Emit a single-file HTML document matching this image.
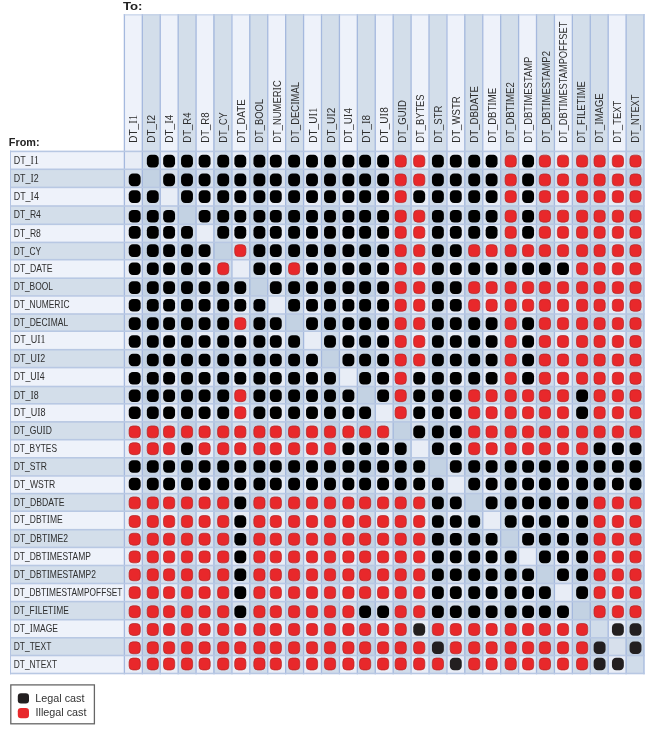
<!DOCTYPE html>
<html><head><meta charset="utf-8"><style>
html,body{margin:0;padding:0;background:#fff;width:645px;height:729px;overflow:hidden}
text{font-family:"Liberation Sans",sans-serif}
.rl{font-size:10.7px;fill:#2E2E2E}
.cl{font-size:11.2px;fill:#2E2E2E}
.si{font-family:"Liberation Serif",serif;font-size:110%}
.tt{font-size:11.5px;font-weight:bold;fill:#222}
.lg{font-size:10.8px;fill:#333}
</style></head><body>
<svg width="645" height="729" viewBox="0 0 645 729" style="display:block">
<g shape-rendering="crispEdges">
<rect x="124" y="14" width="18" height="137" fill="#EEF2FA"/>
<rect x="142" y="14" width="18" height="137" fill="#D3DEEA"/>
<rect x="160" y="14" width="18" height="137" fill="#EEF2FA"/>
<rect x="178" y="14" width="18" height="137" fill="#D3DEEA"/>
<rect x="196" y="14" width="17" height="137" fill="#EEF2FA"/>
<rect x="213" y="14" width="18" height="137" fill="#D3DEEA"/>
<rect x="231" y="14" width="18" height="137" fill="#EEF2FA"/>
<rect x="249" y="14" width="18" height="137" fill="#D3DEEA"/>
<rect x="267" y="14" width="18" height="137" fill="#EEF2FA"/>
<rect x="285" y="14" width="18" height="137" fill="#D3DEEA"/>
<rect x="303" y="14" width="18" height="137" fill="#EEF2FA"/>
<rect x="321" y="14" width="18" height="137" fill="#D3DEEA"/>
<rect x="339" y="14" width="18" height="137" fill="#EEF2FA"/>
<rect x="357" y="14" width="18" height="137" fill="#D3DEEA"/>
<rect x="375" y="14" width="18" height="137" fill="#EEF2FA"/>
<rect x="393" y="14" width="18" height="137" fill="#D3DEEA"/>
<rect x="411" y="14" width="18" height="137" fill="#EEF2FA"/>
<rect x="429" y="14" width="17" height="137" fill="#D3DEEA"/>
<rect x="446" y="14" width="18" height="137" fill="#EEF2FA"/>
<rect x="464" y="14" width="18" height="137" fill="#D3DEEA"/>
<rect x="482" y="14" width="18" height="137" fill="#EEF2FA"/>
<rect x="500" y="14" width="18" height="137" fill="#D3DEEA"/>
<rect x="518" y="14" width="18" height="137" fill="#EEF2FA"/>
<rect x="536" y="14" width="18" height="137" fill="#D3DEEA"/>
<rect x="554" y="14" width="18" height="137" fill="#EEF2FA"/>
<rect x="572" y="14" width="18" height="137" fill="#D3DEEA"/>
<rect x="590" y="14" width="18" height="137" fill="#D3DEEA"/>
<rect x="608" y="14" width="18" height="137" fill="#EEF2FA"/>
<rect x="626" y="14" width="18" height="137" fill="#D3DEEA"/>
<rect x="10" y="151" width="114" height="18" fill="#EEF2FA"/>
<rect x="10" y="169" width="114" height="18" fill="#D3DEEA"/>
<rect x="10" y="187" width="114" height="19" fill="#EEF2FA"/>
<rect x="10" y="206" width="114" height="18" fill="#D3DEEA"/>
<rect x="10" y="224" width="114" height="18" fill="#EEF2FA"/>
<rect x="10" y="242" width="114" height="17" fill="#D3DEEA"/>
<rect x="10" y="259" width="114" height="19" fill="#EEF2FA"/>
<rect x="10" y="278" width="114" height="17" fill="#D3DEEA"/>
<rect x="10" y="295" width="114" height="19" fill="#EEF2FA"/>
<rect x="10" y="314" width="114" height="17" fill="#D3DEEA"/>
<rect x="10" y="331" width="114" height="18" fill="#EEF2FA"/>
<rect x="10" y="349" width="114" height="18" fill="#D3DEEA"/>
<rect x="10" y="367" width="114" height="19" fill="#EEF2FA"/>
<rect x="10" y="386" width="114" height="17" fill="#D3DEEA"/>
<rect x="10" y="403" width="114" height="18" fill="#EEF2FA"/>
<rect x="10" y="421" width="114" height="18" fill="#D3DEEA"/>
<rect x="10" y="439" width="114" height="18" fill="#EEF2FA"/>
<rect x="10" y="457" width="114" height="18" fill="#D3DEEA"/>
<rect x="10" y="475" width="114" height="18" fill="#EEF2FA"/>
<rect x="10" y="493" width="114" height="18" fill="#D3DEEA"/>
<rect x="10" y="511" width="114" height="18" fill="#EEF2FA"/>
<rect x="10" y="529" width="114" height="18" fill="#D3DEEA"/>
<rect x="10" y="547" width="114" height="18" fill="#EEF2FA"/>
<rect x="10" y="565" width="114" height="18" fill="#D3DEEA"/>
<rect x="10" y="583" width="114" height="18" fill="#EEF2FA"/>
<rect x="10" y="601" width="114" height="18" fill="#D3DEEA"/>
<rect x="10" y="619" width="114" height="18" fill="#EEF2FA"/>
<rect x="10" y="637" width="114" height="18" fill="#D3DEEA"/>
<rect x="10" y="655" width="114" height="18" fill="#EEF2FA"/>
<rect x="124" y="151" width="18" height="18" fill="#E8EDF6"/>
<rect x="142" y="151" width="18" height="18" fill="#D0DCEA"/>
<rect x="160" y="151" width="18" height="18" fill="#E8EDF6"/>
<rect x="178" y="151" width="18" height="18" fill="#D0DCEA"/>
<rect x="196" y="151" width="17" height="18" fill="#E8EDF6"/>
<rect x="213" y="151" width="18" height="18" fill="#D0DCEA"/>
<rect x="231" y="151" width="18" height="18" fill="#E8EDF6"/>
<rect x="249" y="151" width="18" height="18" fill="#D0DCEA"/>
<rect x="267" y="151" width="18" height="18" fill="#E8EDF6"/>
<rect x="285" y="151" width="18" height="18" fill="#D0DCEA"/>
<rect x="303" y="151" width="18" height="18" fill="#E8EDF6"/>
<rect x="321" y="151" width="18" height="18" fill="#D0DCEA"/>
<rect x="339" y="151" width="18" height="18" fill="#E8EDF6"/>
<rect x="357" y="151" width="18" height="18" fill="#D0DCEA"/>
<rect x="375" y="151" width="18" height="18" fill="#E8EDF6"/>
<rect x="393" y="151" width="18" height="18" fill="#D0DCEA"/>
<rect x="411" y="151" width="18" height="18" fill="#E8EDF6"/>
<rect x="429" y="151" width="17" height="18" fill="#D0DCEA"/>
<rect x="446" y="151" width="18" height="18" fill="#E8EDF6"/>
<rect x="464" y="151" width="18" height="18" fill="#D0DCEA"/>
<rect x="482" y="151" width="18" height="18" fill="#E8EDF6"/>
<rect x="500" y="151" width="18" height="18" fill="#D0DCEA"/>
<rect x="518" y="151" width="18" height="18" fill="#E8EDF6"/>
<rect x="536" y="151" width="18" height="18" fill="#D0DCEA"/>
<rect x="554" y="151" width="18" height="18" fill="#E8EDF6"/>
<rect x="572" y="151" width="18" height="18" fill="#D0DCEA"/>
<rect x="590" y="151" width="18" height="18" fill="#D0DCEA"/>
<rect x="608" y="151" width="18" height="18" fill="#E8EDF6"/>
<rect x="626" y="151" width="18" height="18" fill="#D0DCEA"/>
<rect x="124" y="169" width="18" height="18" fill="#D7E0EC"/>
<rect x="142" y="169" width="18" height="18" fill="#C3D2E3"/>
<rect x="160" y="169" width="18" height="18" fill="#D7E0EC"/>
<rect x="178" y="169" width="18" height="18" fill="#C3D2E3"/>
<rect x="196" y="169" width="17" height="18" fill="#D7E0EC"/>
<rect x="213" y="169" width="18" height="18" fill="#C3D2E3"/>
<rect x="231" y="169" width="18" height="18" fill="#D7E0EC"/>
<rect x="249" y="169" width="18" height="18" fill="#C3D2E3"/>
<rect x="267" y="169" width="18" height="18" fill="#D7E0EC"/>
<rect x="285" y="169" width="18" height="18" fill="#C3D2E3"/>
<rect x="303" y="169" width="18" height="18" fill="#D7E0EC"/>
<rect x="321" y="169" width="18" height="18" fill="#C3D2E3"/>
<rect x="339" y="169" width="18" height="18" fill="#D7E0EC"/>
<rect x="357" y="169" width="18" height="18" fill="#C3D2E3"/>
<rect x="375" y="169" width="18" height="18" fill="#D7E0EC"/>
<rect x="393" y="169" width="18" height="18" fill="#C3D2E3"/>
<rect x="411" y="169" width="18" height="18" fill="#D7E0EC"/>
<rect x="429" y="169" width="17" height="18" fill="#C3D2E3"/>
<rect x="446" y="169" width="18" height="18" fill="#D7E0EC"/>
<rect x="464" y="169" width="18" height="18" fill="#C3D2E3"/>
<rect x="482" y="169" width="18" height="18" fill="#D7E0EC"/>
<rect x="500" y="169" width="18" height="18" fill="#C3D2E3"/>
<rect x="518" y="169" width="18" height="18" fill="#D7E0EC"/>
<rect x="536" y="169" width="18" height="18" fill="#C3D2E3"/>
<rect x="554" y="169" width="18" height="18" fill="#D7E0EC"/>
<rect x="572" y="169" width="18" height="18" fill="#C3D2E3"/>
<rect x="590" y="169" width="18" height="18" fill="#C3D2E3"/>
<rect x="608" y="169" width="18" height="18" fill="#D7E0EC"/>
<rect x="626" y="169" width="18" height="18" fill="#C3D2E3"/>
<rect x="124" y="187" width="18" height="19" fill="#E8EDF6"/>
<rect x="142" y="187" width="18" height="19" fill="#D0DCEA"/>
<rect x="160" y="187" width="18" height="19" fill="#E8EDF6"/>
<rect x="178" y="187" width="18" height="19" fill="#D0DCEA"/>
<rect x="196" y="187" width="17" height="19" fill="#E8EDF6"/>
<rect x="213" y="187" width="18" height="19" fill="#D0DCEA"/>
<rect x="231" y="187" width="18" height="19" fill="#E8EDF6"/>
<rect x="249" y="187" width="18" height="19" fill="#D0DCEA"/>
<rect x="267" y="187" width="18" height="19" fill="#E8EDF6"/>
<rect x="285" y="187" width="18" height="19" fill="#D0DCEA"/>
<rect x="303" y="187" width="18" height="19" fill="#E8EDF6"/>
<rect x="321" y="187" width="18" height="19" fill="#D0DCEA"/>
<rect x="339" y="187" width="18" height="19" fill="#E8EDF6"/>
<rect x="357" y="187" width="18" height="19" fill="#D0DCEA"/>
<rect x="375" y="187" width="18" height="19" fill="#E8EDF6"/>
<rect x="393" y="187" width="18" height="19" fill="#D0DCEA"/>
<rect x="411" y="187" width="18" height="19" fill="#E8EDF6"/>
<rect x="429" y="187" width="17" height="19" fill="#D0DCEA"/>
<rect x="446" y="187" width="18" height="19" fill="#E8EDF6"/>
<rect x="464" y="187" width="18" height="19" fill="#D0DCEA"/>
<rect x="482" y="187" width="18" height="19" fill="#E8EDF6"/>
<rect x="500" y="187" width="18" height="19" fill="#D0DCEA"/>
<rect x="518" y="187" width="18" height="19" fill="#E8EDF6"/>
<rect x="536" y="187" width="18" height="19" fill="#D0DCEA"/>
<rect x="554" y="187" width="18" height="19" fill="#E8EDF6"/>
<rect x="572" y="187" width="18" height="19" fill="#D0DCEA"/>
<rect x="590" y="187" width="18" height="19" fill="#D0DCEA"/>
<rect x="608" y="187" width="18" height="19" fill="#E8EDF6"/>
<rect x="626" y="187" width="18" height="19" fill="#D0DCEA"/>
<rect x="124" y="206" width="18" height="18" fill="#D7E0EC"/>
<rect x="142" y="206" width="18" height="18" fill="#C3D2E3"/>
<rect x="160" y="206" width="18" height="18" fill="#D7E0EC"/>
<rect x="178" y="206" width="18" height="18" fill="#C3D2E3"/>
<rect x="196" y="206" width="17" height="18" fill="#D7E0EC"/>
<rect x="213" y="206" width="18" height="18" fill="#C3D2E3"/>
<rect x="231" y="206" width="18" height="18" fill="#D7E0EC"/>
<rect x="249" y="206" width="18" height="18" fill="#C3D2E3"/>
<rect x="267" y="206" width="18" height="18" fill="#D7E0EC"/>
<rect x="285" y="206" width="18" height="18" fill="#C3D2E3"/>
<rect x="303" y="206" width="18" height="18" fill="#D7E0EC"/>
<rect x="321" y="206" width="18" height="18" fill="#C3D2E3"/>
<rect x="339" y="206" width="18" height="18" fill="#D7E0EC"/>
<rect x="357" y="206" width="18" height="18" fill="#C3D2E3"/>
<rect x="375" y="206" width="18" height="18" fill="#D7E0EC"/>
<rect x="393" y="206" width="18" height="18" fill="#C3D2E3"/>
<rect x="411" y="206" width="18" height="18" fill="#D7E0EC"/>
<rect x="429" y="206" width="17" height="18" fill="#C3D2E3"/>
<rect x="446" y="206" width="18" height="18" fill="#D7E0EC"/>
<rect x="464" y="206" width="18" height="18" fill="#C3D2E3"/>
<rect x="482" y="206" width="18" height="18" fill="#D7E0EC"/>
<rect x="500" y="206" width="18" height="18" fill="#C3D2E3"/>
<rect x="518" y="206" width="18" height="18" fill="#D7E0EC"/>
<rect x="536" y="206" width="18" height="18" fill="#C3D2E3"/>
<rect x="554" y="206" width="18" height="18" fill="#D7E0EC"/>
<rect x="572" y="206" width="18" height="18" fill="#C3D2E3"/>
<rect x="590" y="206" width="18" height="18" fill="#C3D2E3"/>
<rect x="608" y="206" width="18" height="18" fill="#D7E0EC"/>
<rect x="626" y="206" width="18" height="18" fill="#C3D2E3"/>
<rect x="124" y="224" width="18" height="18" fill="#E8EDF6"/>
<rect x="142" y="224" width="18" height="18" fill="#D0DCEA"/>
<rect x="160" y="224" width="18" height="18" fill="#E8EDF6"/>
<rect x="178" y="224" width="18" height="18" fill="#D0DCEA"/>
<rect x="196" y="224" width="17" height="18" fill="#E8EDF6"/>
<rect x="213" y="224" width="18" height="18" fill="#D0DCEA"/>
<rect x="231" y="224" width="18" height="18" fill="#E8EDF6"/>
<rect x="249" y="224" width="18" height="18" fill="#D0DCEA"/>
<rect x="267" y="224" width="18" height="18" fill="#E8EDF6"/>
<rect x="285" y="224" width="18" height="18" fill="#D0DCEA"/>
<rect x="303" y="224" width="18" height="18" fill="#E8EDF6"/>
<rect x="321" y="224" width="18" height="18" fill="#D0DCEA"/>
<rect x="339" y="224" width="18" height="18" fill="#E8EDF6"/>
<rect x="357" y="224" width="18" height="18" fill="#D0DCEA"/>
<rect x="375" y="224" width="18" height="18" fill="#E8EDF6"/>
<rect x="393" y="224" width="18" height="18" fill="#D0DCEA"/>
<rect x="411" y="224" width="18" height="18" fill="#E8EDF6"/>
<rect x="429" y="224" width="17" height="18" fill="#D0DCEA"/>
<rect x="446" y="224" width="18" height="18" fill="#E8EDF6"/>
<rect x="464" y="224" width="18" height="18" fill="#D0DCEA"/>
<rect x="482" y="224" width="18" height="18" fill="#E8EDF6"/>
<rect x="500" y="224" width="18" height="18" fill="#D0DCEA"/>
<rect x="518" y="224" width="18" height="18" fill="#E8EDF6"/>
<rect x="536" y="224" width="18" height="18" fill="#D0DCEA"/>
<rect x="554" y="224" width="18" height="18" fill="#E8EDF6"/>
<rect x="572" y="224" width="18" height="18" fill="#D0DCEA"/>
<rect x="590" y="224" width="18" height="18" fill="#D0DCEA"/>
<rect x="608" y="224" width="18" height="18" fill="#E8EDF6"/>
<rect x="626" y="224" width="18" height="18" fill="#D0DCEA"/>
<rect x="124" y="242" width="18" height="17" fill="#D7E0EC"/>
<rect x="142" y="242" width="18" height="17" fill="#C3D2E3"/>
<rect x="160" y="242" width="18" height="17" fill="#D7E0EC"/>
<rect x="178" y="242" width="18" height="17" fill="#C3D2E3"/>
<rect x="196" y="242" width="17" height="17" fill="#D7E0EC"/>
<rect x="213" y="242" width="18" height="17" fill="#C3D2E3"/>
<rect x="231" y="242" width="18" height="17" fill="#D7E0EC"/>
<rect x="249" y="242" width="18" height="17" fill="#C3D2E3"/>
<rect x="267" y="242" width="18" height="17" fill="#D7E0EC"/>
<rect x="285" y="242" width="18" height="17" fill="#C3D2E3"/>
<rect x="303" y="242" width="18" height="17" fill="#D7E0EC"/>
<rect x="321" y="242" width="18" height="17" fill="#C3D2E3"/>
<rect x="339" y="242" width="18" height="17" fill="#D7E0EC"/>
<rect x="357" y="242" width="18" height="17" fill="#C3D2E3"/>
<rect x="375" y="242" width="18" height="17" fill="#D7E0EC"/>
<rect x="393" y="242" width="18" height="17" fill="#C3D2E3"/>
<rect x="411" y="242" width="18" height="17" fill="#D7E0EC"/>
<rect x="429" y="242" width="17" height="17" fill="#C3D2E3"/>
<rect x="446" y="242" width="18" height="17" fill="#D7E0EC"/>
<rect x="464" y="242" width="18" height="17" fill="#C3D2E3"/>
<rect x="482" y="242" width="18" height="17" fill="#D7E0EC"/>
<rect x="500" y="242" width="18" height="17" fill="#C3D2E3"/>
<rect x="518" y="242" width="18" height="17" fill="#D7E0EC"/>
<rect x="536" y="242" width="18" height="17" fill="#C3D2E3"/>
<rect x="554" y="242" width="18" height="17" fill="#D7E0EC"/>
<rect x="572" y="242" width="18" height="17" fill="#C3D2E3"/>
<rect x="590" y="242" width="18" height="17" fill="#C3D2E3"/>
<rect x="608" y="242" width="18" height="17" fill="#D7E0EC"/>
<rect x="626" y="242" width="18" height="17" fill="#C3D2E3"/>
<rect x="124" y="259" width="18" height="19" fill="#E8EDF6"/>
<rect x="142" y="259" width="18" height="19" fill="#D0DCEA"/>
<rect x="160" y="259" width="18" height="19" fill="#E8EDF6"/>
<rect x="178" y="259" width="18" height="19" fill="#D0DCEA"/>
<rect x="196" y="259" width="17" height="19" fill="#E8EDF6"/>
<rect x="213" y="259" width="18" height="19" fill="#D0DCEA"/>
<rect x="231" y="259" width="18" height="19" fill="#E8EDF6"/>
<rect x="249" y="259" width="18" height="19" fill="#D0DCEA"/>
<rect x="267" y="259" width="18" height="19" fill="#E8EDF6"/>
<rect x="285" y="259" width="18" height="19" fill="#D0DCEA"/>
<rect x="303" y="259" width="18" height="19" fill="#E8EDF6"/>
<rect x="321" y="259" width="18" height="19" fill="#D0DCEA"/>
<rect x="339" y="259" width="18" height="19" fill="#E8EDF6"/>
<rect x="357" y="259" width="18" height="19" fill="#D0DCEA"/>
<rect x="375" y="259" width="18" height="19" fill="#E8EDF6"/>
<rect x="393" y="259" width="18" height="19" fill="#D0DCEA"/>
<rect x="411" y="259" width="18" height="19" fill="#E8EDF6"/>
<rect x="429" y="259" width="17" height="19" fill="#D0DCEA"/>
<rect x="446" y="259" width="18" height="19" fill="#E8EDF6"/>
<rect x="464" y="259" width="18" height="19" fill="#D0DCEA"/>
<rect x="482" y="259" width="18" height="19" fill="#E8EDF6"/>
<rect x="500" y="259" width="18" height="19" fill="#D0DCEA"/>
<rect x="518" y="259" width="18" height="19" fill="#E8EDF6"/>
<rect x="536" y="259" width="18" height="19" fill="#D0DCEA"/>
<rect x="554" y="259" width="18" height="19" fill="#E8EDF6"/>
<rect x="572" y="259" width="18" height="19" fill="#D0DCEA"/>
<rect x="590" y="259" width="18" height="19" fill="#D0DCEA"/>
<rect x="608" y="259" width="18" height="19" fill="#E8EDF6"/>
<rect x="626" y="259" width="18" height="19" fill="#D0DCEA"/>
<rect x="124" y="278" width="18" height="17" fill="#D7E0EC"/>
<rect x="142" y="278" width="18" height="17" fill="#C3D2E3"/>
<rect x="160" y="278" width="18" height="17" fill="#D7E0EC"/>
<rect x="178" y="278" width="18" height="17" fill="#C3D2E3"/>
<rect x="196" y="278" width="17" height="17" fill="#D7E0EC"/>
<rect x="213" y="278" width="18" height="17" fill="#C3D2E3"/>
<rect x="231" y="278" width="18" height="17" fill="#D7E0EC"/>
<rect x="249" y="278" width="18" height="17" fill="#C3D2E3"/>
<rect x="267" y="278" width="18" height="17" fill="#D7E0EC"/>
<rect x="285" y="278" width="18" height="17" fill="#C3D2E3"/>
<rect x="303" y="278" width="18" height="17" fill="#D7E0EC"/>
<rect x="321" y="278" width="18" height="17" fill="#C3D2E3"/>
<rect x="339" y="278" width="18" height="17" fill="#D7E0EC"/>
<rect x="357" y="278" width="18" height="17" fill="#C3D2E3"/>
<rect x="375" y="278" width="18" height="17" fill="#D7E0EC"/>
<rect x="393" y="278" width="18" height="17" fill="#C3D2E3"/>
<rect x="411" y="278" width="18" height="17" fill="#D7E0EC"/>
<rect x="429" y="278" width="17" height="17" fill="#C3D2E3"/>
<rect x="446" y="278" width="18" height="17" fill="#D7E0EC"/>
<rect x="464" y="278" width="18" height="17" fill="#C3D2E3"/>
<rect x="482" y="278" width="18" height="17" fill="#D7E0EC"/>
<rect x="500" y="278" width="18" height="17" fill="#C3D2E3"/>
<rect x="518" y="278" width="18" height="17" fill="#D7E0EC"/>
<rect x="536" y="278" width="18" height="17" fill="#C3D2E3"/>
<rect x="554" y="278" width="18" height="17" fill="#D7E0EC"/>
<rect x="572" y="278" width="18" height="17" fill="#C3D2E3"/>
<rect x="590" y="278" width="18" height="17" fill="#C3D2E3"/>
<rect x="608" y="278" width="18" height="17" fill="#D7E0EC"/>
<rect x="626" y="278" width="18" height="17" fill="#C3D2E3"/>
<rect x="124" y="295" width="18" height="19" fill="#E8EDF6"/>
<rect x="142" y="295" width="18" height="19" fill="#D0DCEA"/>
<rect x="160" y="295" width="18" height="19" fill="#E8EDF6"/>
<rect x="178" y="295" width="18" height="19" fill="#D0DCEA"/>
<rect x="196" y="295" width="17" height="19" fill="#E8EDF6"/>
<rect x="213" y="295" width="18" height="19" fill="#D0DCEA"/>
<rect x="231" y="295" width="18" height="19" fill="#E8EDF6"/>
<rect x="249" y="295" width="18" height="19" fill="#D0DCEA"/>
<rect x="267" y="295" width="18" height="19" fill="#E8EDF6"/>
<rect x="285" y="295" width="18" height="19" fill="#D0DCEA"/>
<rect x="303" y="295" width="18" height="19" fill="#E8EDF6"/>
<rect x="321" y="295" width="18" height="19" fill="#D0DCEA"/>
<rect x="339" y="295" width="18" height="19" fill="#E8EDF6"/>
<rect x="357" y="295" width="18" height="19" fill="#D0DCEA"/>
<rect x="375" y="295" width="18" height="19" fill="#E8EDF6"/>
<rect x="393" y="295" width="18" height="19" fill="#D0DCEA"/>
<rect x="411" y="295" width="18" height="19" fill="#E8EDF6"/>
<rect x="429" y="295" width="17" height="19" fill="#D0DCEA"/>
<rect x="446" y="295" width="18" height="19" fill="#E8EDF6"/>
<rect x="464" y="295" width="18" height="19" fill="#D0DCEA"/>
<rect x="482" y="295" width="18" height="19" fill="#E8EDF6"/>
<rect x="500" y="295" width="18" height="19" fill="#D0DCEA"/>
<rect x="518" y="295" width="18" height="19" fill="#E8EDF6"/>
<rect x="536" y="295" width="18" height="19" fill="#D0DCEA"/>
<rect x="554" y="295" width="18" height="19" fill="#E8EDF6"/>
<rect x="572" y="295" width="18" height="19" fill="#D0DCEA"/>
<rect x="590" y="295" width="18" height="19" fill="#D0DCEA"/>
<rect x="608" y="295" width="18" height="19" fill="#E8EDF6"/>
<rect x="626" y="295" width="18" height="19" fill="#D0DCEA"/>
<rect x="124" y="314" width="18" height="17" fill="#D7E0EC"/>
<rect x="142" y="314" width="18" height="17" fill="#C3D2E3"/>
<rect x="160" y="314" width="18" height="17" fill="#D7E0EC"/>
<rect x="178" y="314" width="18" height="17" fill="#C3D2E3"/>
<rect x="196" y="314" width="17" height="17" fill="#D7E0EC"/>
<rect x="213" y="314" width="18" height="17" fill="#C3D2E3"/>
<rect x="231" y="314" width="18" height="17" fill="#D7E0EC"/>
<rect x="249" y="314" width="18" height="17" fill="#C3D2E3"/>
<rect x="267" y="314" width="18" height="17" fill="#D7E0EC"/>
<rect x="285" y="314" width="18" height="17" fill="#C3D2E3"/>
<rect x="303" y="314" width="18" height="17" fill="#D7E0EC"/>
<rect x="321" y="314" width="18" height="17" fill="#C3D2E3"/>
<rect x="339" y="314" width="18" height="17" fill="#D7E0EC"/>
<rect x="357" y="314" width="18" height="17" fill="#C3D2E3"/>
<rect x="375" y="314" width="18" height="17" fill="#D7E0EC"/>
<rect x="393" y="314" width="18" height="17" fill="#C3D2E3"/>
<rect x="411" y="314" width="18" height="17" fill="#D7E0EC"/>
<rect x="429" y="314" width="17" height="17" fill="#C3D2E3"/>
<rect x="446" y="314" width="18" height="17" fill="#D7E0EC"/>
<rect x="464" y="314" width="18" height="17" fill="#C3D2E3"/>
<rect x="482" y="314" width="18" height="17" fill="#D7E0EC"/>
<rect x="500" y="314" width="18" height="17" fill="#C3D2E3"/>
<rect x="518" y="314" width="18" height="17" fill="#D7E0EC"/>
<rect x="536" y="314" width="18" height="17" fill="#C3D2E3"/>
<rect x="554" y="314" width="18" height="17" fill="#D7E0EC"/>
<rect x="572" y="314" width="18" height="17" fill="#C3D2E3"/>
<rect x="590" y="314" width="18" height="17" fill="#C3D2E3"/>
<rect x="608" y="314" width="18" height="17" fill="#D7E0EC"/>
<rect x="626" y="314" width="18" height="17" fill="#C3D2E3"/>
<rect x="124" y="331" width="18" height="18" fill="#E8EDF6"/>
<rect x="142" y="331" width="18" height="18" fill="#D0DCEA"/>
<rect x="160" y="331" width="18" height="18" fill="#E8EDF6"/>
<rect x="178" y="331" width="18" height="18" fill="#D0DCEA"/>
<rect x="196" y="331" width="17" height="18" fill="#E8EDF6"/>
<rect x="213" y="331" width="18" height="18" fill="#D0DCEA"/>
<rect x="231" y="331" width="18" height="18" fill="#E8EDF6"/>
<rect x="249" y="331" width="18" height="18" fill="#D0DCEA"/>
<rect x="267" y="331" width="18" height="18" fill="#E8EDF6"/>
<rect x="285" y="331" width="18" height="18" fill="#D0DCEA"/>
<rect x="303" y="331" width="18" height="18" fill="#E8EDF6"/>
<rect x="321" y="331" width="18" height="18" fill="#D0DCEA"/>
<rect x="339" y="331" width="18" height="18" fill="#E8EDF6"/>
<rect x="357" y="331" width="18" height="18" fill="#D0DCEA"/>
<rect x="375" y="331" width="18" height="18" fill="#E8EDF6"/>
<rect x="393" y="331" width="18" height="18" fill="#D0DCEA"/>
<rect x="411" y="331" width="18" height="18" fill="#E8EDF6"/>
<rect x="429" y="331" width="17" height="18" fill="#D0DCEA"/>
<rect x="446" y="331" width="18" height="18" fill="#E8EDF6"/>
<rect x="464" y="331" width="18" height="18" fill="#D0DCEA"/>
<rect x="482" y="331" width="18" height="18" fill="#E8EDF6"/>
<rect x="500" y="331" width="18" height="18" fill="#D0DCEA"/>
<rect x="518" y="331" width="18" height="18" fill="#E8EDF6"/>
<rect x="536" y="331" width="18" height="18" fill="#D0DCEA"/>
<rect x="554" y="331" width="18" height="18" fill="#E8EDF6"/>
<rect x="572" y="331" width="18" height="18" fill="#D0DCEA"/>
<rect x="590" y="331" width="18" height="18" fill="#D0DCEA"/>
<rect x="608" y="331" width="18" height="18" fill="#E8EDF6"/>
<rect x="626" y="331" width="18" height="18" fill="#D0DCEA"/>
<rect x="124" y="349" width="18" height="18" fill="#D7E0EC"/>
<rect x="142" y="349" width="18" height="18" fill="#C3D2E3"/>
<rect x="160" y="349" width="18" height="18" fill="#D7E0EC"/>
<rect x="178" y="349" width="18" height="18" fill="#C3D2E3"/>
<rect x="196" y="349" width="17" height="18" fill="#D7E0EC"/>
<rect x="213" y="349" width="18" height="18" fill="#C3D2E3"/>
<rect x="231" y="349" width="18" height="18" fill="#D7E0EC"/>
<rect x="249" y="349" width="18" height="18" fill="#C3D2E3"/>
<rect x="267" y="349" width="18" height="18" fill="#D7E0EC"/>
<rect x="285" y="349" width="18" height="18" fill="#C3D2E3"/>
<rect x="303" y="349" width="18" height="18" fill="#D7E0EC"/>
<rect x="321" y="349" width="18" height="18" fill="#C3D2E3"/>
<rect x="339" y="349" width="18" height="18" fill="#D7E0EC"/>
<rect x="357" y="349" width="18" height="18" fill="#C3D2E3"/>
<rect x="375" y="349" width="18" height="18" fill="#D7E0EC"/>
<rect x="393" y="349" width="18" height="18" fill="#C3D2E3"/>
<rect x="411" y="349" width="18" height="18" fill="#D7E0EC"/>
<rect x="429" y="349" width="17" height="18" fill="#C3D2E3"/>
<rect x="446" y="349" width="18" height="18" fill="#D7E0EC"/>
<rect x="464" y="349" width="18" height="18" fill="#C3D2E3"/>
<rect x="482" y="349" width="18" height="18" fill="#D7E0EC"/>
<rect x="500" y="349" width="18" height="18" fill="#C3D2E3"/>
<rect x="518" y="349" width="18" height="18" fill="#D7E0EC"/>
<rect x="536" y="349" width="18" height="18" fill="#C3D2E3"/>
<rect x="554" y="349" width="18" height="18" fill="#D7E0EC"/>
<rect x="572" y="349" width="18" height="18" fill="#C3D2E3"/>
<rect x="590" y="349" width="18" height="18" fill="#C3D2E3"/>
<rect x="608" y="349" width="18" height="18" fill="#D7E0EC"/>
<rect x="626" y="349" width="18" height="18" fill="#C3D2E3"/>
<rect x="124" y="367" width="18" height="19" fill="#E8EDF6"/>
<rect x="142" y="367" width="18" height="19" fill="#D0DCEA"/>
<rect x="160" y="367" width="18" height="19" fill="#E8EDF6"/>
<rect x="178" y="367" width="18" height="19" fill="#D0DCEA"/>
<rect x="196" y="367" width="17" height="19" fill="#E8EDF6"/>
<rect x="213" y="367" width="18" height="19" fill="#D0DCEA"/>
<rect x="231" y="367" width="18" height="19" fill="#E8EDF6"/>
<rect x="249" y="367" width="18" height="19" fill="#D0DCEA"/>
<rect x="267" y="367" width="18" height="19" fill="#E8EDF6"/>
<rect x="285" y="367" width="18" height="19" fill="#D0DCEA"/>
<rect x="303" y="367" width="18" height="19" fill="#E8EDF6"/>
<rect x="321" y="367" width="18" height="19" fill="#D0DCEA"/>
<rect x="339" y="367" width="18" height="19" fill="#E8EDF6"/>
<rect x="357" y="367" width="18" height="19" fill="#D0DCEA"/>
<rect x="375" y="367" width="18" height="19" fill="#E8EDF6"/>
<rect x="393" y="367" width="18" height="19" fill="#D0DCEA"/>
<rect x="411" y="367" width="18" height="19" fill="#E8EDF6"/>
<rect x="429" y="367" width="17" height="19" fill="#D0DCEA"/>
<rect x="446" y="367" width="18" height="19" fill="#E8EDF6"/>
<rect x="464" y="367" width="18" height="19" fill="#D0DCEA"/>
<rect x="482" y="367" width="18" height="19" fill="#E8EDF6"/>
<rect x="500" y="367" width="18" height="19" fill="#D0DCEA"/>
<rect x="518" y="367" width="18" height="19" fill="#E8EDF6"/>
<rect x="536" y="367" width="18" height="19" fill="#D0DCEA"/>
<rect x="554" y="367" width="18" height="19" fill="#E8EDF6"/>
<rect x="572" y="367" width="18" height="19" fill="#D0DCEA"/>
<rect x="590" y="367" width="18" height="19" fill="#D0DCEA"/>
<rect x="608" y="367" width="18" height="19" fill="#E8EDF6"/>
<rect x="626" y="367" width="18" height="19" fill="#D0DCEA"/>
<rect x="124" y="386" width="18" height="17" fill="#D7E0EC"/>
<rect x="142" y="386" width="18" height="17" fill="#C3D2E3"/>
<rect x="160" y="386" width="18" height="17" fill="#D7E0EC"/>
<rect x="178" y="386" width="18" height="17" fill="#C3D2E3"/>
<rect x="196" y="386" width="17" height="17" fill="#D7E0EC"/>
<rect x="213" y="386" width="18" height="17" fill="#C3D2E3"/>
<rect x="231" y="386" width="18" height="17" fill="#D7E0EC"/>
<rect x="249" y="386" width="18" height="17" fill="#C3D2E3"/>
<rect x="267" y="386" width="18" height="17" fill="#D7E0EC"/>
<rect x="285" y="386" width="18" height="17" fill="#C3D2E3"/>
<rect x="303" y="386" width="18" height="17" fill="#D7E0EC"/>
<rect x="321" y="386" width="18" height="17" fill="#C3D2E3"/>
<rect x="339" y="386" width="18" height="17" fill="#D7E0EC"/>
<rect x="357" y="386" width="18" height="17" fill="#C3D2E3"/>
<rect x="375" y="386" width="18" height="17" fill="#D7E0EC"/>
<rect x="393" y="386" width="18" height="17" fill="#C3D2E3"/>
<rect x="411" y="386" width="18" height="17" fill="#D7E0EC"/>
<rect x="429" y="386" width="17" height="17" fill="#C3D2E3"/>
<rect x="446" y="386" width="18" height="17" fill="#D7E0EC"/>
<rect x="464" y="386" width="18" height="17" fill="#C3D2E3"/>
<rect x="482" y="386" width="18" height="17" fill="#D7E0EC"/>
<rect x="500" y="386" width="18" height="17" fill="#C3D2E3"/>
<rect x="518" y="386" width="18" height="17" fill="#D7E0EC"/>
<rect x="536" y="386" width="18" height="17" fill="#C3D2E3"/>
<rect x="554" y="386" width="18" height="17" fill="#D7E0EC"/>
<rect x="572" y="386" width="18" height="17" fill="#C3D2E3"/>
<rect x="590" y="386" width="18" height="17" fill="#C3D2E3"/>
<rect x="608" y="386" width="18" height="17" fill="#D7E0EC"/>
<rect x="626" y="386" width="18" height="17" fill="#C3D2E3"/>
<rect x="124" y="403" width="18" height="18" fill="#E8EDF6"/>
<rect x="142" y="403" width="18" height="18" fill="#D0DCEA"/>
<rect x="160" y="403" width="18" height="18" fill="#E8EDF6"/>
<rect x="178" y="403" width="18" height="18" fill="#D0DCEA"/>
<rect x="196" y="403" width="17" height="18" fill="#E8EDF6"/>
<rect x="213" y="403" width="18" height="18" fill="#D0DCEA"/>
<rect x="231" y="403" width="18" height="18" fill="#E8EDF6"/>
<rect x="249" y="403" width="18" height="18" fill="#D0DCEA"/>
<rect x="267" y="403" width="18" height="18" fill="#E8EDF6"/>
<rect x="285" y="403" width="18" height="18" fill="#D0DCEA"/>
<rect x="303" y="403" width="18" height="18" fill="#E8EDF6"/>
<rect x="321" y="403" width="18" height="18" fill="#D0DCEA"/>
<rect x="339" y="403" width="18" height="18" fill="#E8EDF6"/>
<rect x="357" y="403" width="18" height="18" fill="#D0DCEA"/>
<rect x="375" y="403" width="18" height="18" fill="#E8EDF6"/>
<rect x="393" y="403" width="18" height="18" fill="#D0DCEA"/>
<rect x="411" y="403" width="18" height="18" fill="#E8EDF6"/>
<rect x="429" y="403" width="17" height="18" fill="#D0DCEA"/>
<rect x="446" y="403" width="18" height="18" fill="#E8EDF6"/>
<rect x="464" y="403" width="18" height="18" fill="#D0DCEA"/>
<rect x="482" y="403" width="18" height="18" fill="#E8EDF6"/>
<rect x="500" y="403" width="18" height="18" fill="#D0DCEA"/>
<rect x="518" y="403" width="18" height="18" fill="#E8EDF6"/>
<rect x="536" y="403" width="18" height="18" fill="#D0DCEA"/>
<rect x="554" y="403" width="18" height="18" fill="#E8EDF6"/>
<rect x="572" y="403" width="18" height="18" fill="#D0DCEA"/>
<rect x="590" y="403" width="18" height="18" fill="#D0DCEA"/>
<rect x="608" y="403" width="18" height="18" fill="#E8EDF6"/>
<rect x="626" y="403" width="18" height="18" fill="#D0DCEA"/>
<rect x="124" y="421" width="18" height="18" fill="#D7E0EC"/>
<rect x="142" y="421" width="18" height="18" fill="#C3D2E3"/>
<rect x="160" y="421" width="18" height="18" fill="#D7E0EC"/>
<rect x="178" y="421" width="18" height="18" fill="#C3D2E3"/>
<rect x="196" y="421" width="17" height="18" fill="#D7E0EC"/>
<rect x="213" y="421" width="18" height="18" fill="#C3D2E3"/>
<rect x="231" y="421" width="18" height="18" fill="#D7E0EC"/>
<rect x="249" y="421" width="18" height="18" fill="#C3D2E3"/>
<rect x="267" y="421" width="18" height="18" fill="#D7E0EC"/>
<rect x="285" y="421" width="18" height="18" fill="#C3D2E3"/>
<rect x="303" y="421" width="18" height="18" fill="#D7E0EC"/>
<rect x="321" y="421" width="18" height="18" fill="#C3D2E3"/>
<rect x="339" y="421" width="18" height="18" fill="#D7E0EC"/>
<rect x="357" y="421" width="18" height="18" fill="#C3D2E3"/>
<rect x="375" y="421" width="18" height="18" fill="#D7E0EC"/>
<rect x="393" y="421" width="18" height="18" fill="#C3D2E3"/>
<rect x="411" y="421" width="18" height="18" fill="#D7E0EC"/>
<rect x="429" y="421" width="17" height="18" fill="#C3D2E3"/>
<rect x="446" y="421" width="18" height="18" fill="#D7E0EC"/>
<rect x="464" y="421" width="18" height="18" fill="#C3D2E3"/>
<rect x="482" y="421" width="18" height="18" fill="#D7E0EC"/>
<rect x="500" y="421" width="18" height="18" fill="#C3D2E3"/>
<rect x="518" y="421" width="18" height="18" fill="#D7E0EC"/>
<rect x="536" y="421" width="18" height="18" fill="#C3D2E3"/>
<rect x="554" y="421" width="18" height="18" fill="#D7E0EC"/>
<rect x="572" y="421" width="18" height="18" fill="#C3D2E3"/>
<rect x="590" y="421" width="18" height="18" fill="#C3D2E3"/>
<rect x="608" y="421" width="18" height="18" fill="#D7E0EC"/>
<rect x="626" y="421" width="18" height="18" fill="#C3D2E3"/>
<rect x="124" y="439" width="18" height="18" fill="#E8EDF6"/>
<rect x="142" y="439" width="18" height="18" fill="#D0DCEA"/>
<rect x="160" y="439" width="18" height="18" fill="#E8EDF6"/>
<rect x="178" y="439" width="18" height="18" fill="#D0DCEA"/>
<rect x="196" y="439" width="17" height="18" fill="#E8EDF6"/>
<rect x="213" y="439" width="18" height="18" fill="#D0DCEA"/>
<rect x="231" y="439" width="18" height="18" fill="#E8EDF6"/>
<rect x="249" y="439" width="18" height="18" fill="#D0DCEA"/>
<rect x="267" y="439" width="18" height="18" fill="#E8EDF6"/>
<rect x="285" y="439" width="18" height="18" fill="#D0DCEA"/>
<rect x="303" y="439" width="18" height="18" fill="#E8EDF6"/>
<rect x="321" y="439" width="18" height="18" fill="#D0DCEA"/>
<rect x="339" y="439" width="18" height="18" fill="#E8EDF6"/>
<rect x="357" y="439" width="18" height="18" fill="#D0DCEA"/>
<rect x="375" y="439" width="18" height="18" fill="#E8EDF6"/>
<rect x="393" y="439" width="18" height="18" fill="#D0DCEA"/>
<rect x="411" y="439" width="18" height="18" fill="#E8EDF6"/>
<rect x="429" y="439" width="17" height="18" fill="#D0DCEA"/>
<rect x="446" y="439" width="18" height="18" fill="#E8EDF6"/>
<rect x="464" y="439" width="18" height="18" fill="#D0DCEA"/>
<rect x="482" y="439" width="18" height="18" fill="#E8EDF6"/>
<rect x="500" y="439" width="18" height="18" fill="#D0DCEA"/>
<rect x="518" y="439" width="18" height="18" fill="#E8EDF6"/>
<rect x="536" y="439" width="18" height="18" fill="#D0DCEA"/>
<rect x="554" y="439" width="18" height="18" fill="#E8EDF6"/>
<rect x="572" y="439" width="18" height="18" fill="#D0DCEA"/>
<rect x="590" y="439" width="18" height="18" fill="#D0DCEA"/>
<rect x="608" y="439" width="18" height="18" fill="#E8EDF6"/>
<rect x="626" y="439" width="18" height="18" fill="#D0DCEA"/>
<rect x="124" y="457" width="18" height="18" fill="#D7E0EC"/>
<rect x="142" y="457" width="18" height="18" fill="#C3D2E3"/>
<rect x="160" y="457" width="18" height="18" fill="#D7E0EC"/>
<rect x="178" y="457" width="18" height="18" fill="#C3D2E3"/>
<rect x="196" y="457" width="17" height="18" fill="#D7E0EC"/>
<rect x="213" y="457" width="18" height="18" fill="#C3D2E3"/>
<rect x="231" y="457" width="18" height="18" fill="#D7E0EC"/>
<rect x="249" y="457" width="18" height="18" fill="#C3D2E3"/>
<rect x="267" y="457" width="18" height="18" fill="#D7E0EC"/>
<rect x="285" y="457" width="18" height="18" fill="#C3D2E3"/>
<rect x="303" y="457" width="18" height="18" fill="#D7E0EC"/>
<rect x="321" y="457" width="18" height="18" fill="#C3D2E3"/>
<rect x="339" y="457" width="18" height="18" fill="#D7E0EC"/>
<rect x="357" y="457" width="18" height="18" fill="#C3D2E3"/>
<rect x="375" y="457" width="18" height="18" fill="#D7E0EC"/>
<rect x="393" y="457" width="18" height="18" fill="#C3D2E3"/>
<rect x="411" y="457" width="18" height="18" fill="#D7E0EC"/>
<rect x="429" y="457" width="17" height="18" fill="#C3D2E3"/>
<rect x="446" y="457" width="18" height="18" fill="#D7E0EC"/>
<rect x="464" y="457" width="18" height="18" fill="#C3D2E3"/>
<rect x="482" y="457" width="18" height="18" fill="#D7E0EC"/>
<rect x="500" y="457" width="18" height="18" fill="#C3D2E3"/>
<rect x="518" y="457" width="18" height="18" fill="#D7E0EC"/>
<rect x="536" y="457" width="18" height="18" fill="#C3D2E3"/>
<rect x="554" y="457" width="18" height="18" fill="#D7E0EC"/>
<rect x="572" y="457" width="18" height="18" fill="#C3D2E3"/>
<rect x="590" y="457" width="18" height="18" fill="#C3D2E3"/>
<rect x="608" y="457" width="18" height="18" fill="#D7E0EC"/>
<rect x="626" y="457" width="18" height="18" fill="#C3D2E3"/>
<rect x="124" y="475" width="18" height="18" fill="#E8EDF6"/>
<rect x="142" y="475" width="18" height="18" fill="#D0DCEA"/>
<rect x="160" y="475" width="18" height="18" fill="#E8EDF6"/>
<rect x="178" y="475" width="18" height="18" fill="#D0DCEA"/>
<rect x="196" y="475" width="17" height="18" fill="#E8EDF6"/>
<rect x="213" y="475" width="18" height="18" fill="#D0DCEA"/>
<rect x="231" y="475" width="18" height="18" fill="#E8EDF6"/>
<rect x="249" y="475" width="18" height="18" fill="#D0DCEA"/>
<rect x="267" y="475" width="18" height="18" fill="#E8EDF6"/>
<rect x="285" y="475" width="18" height="18" fill="#D0DCEA"/>
<rect x="303" y="475" width="18" height="18" fill="#E8EDF6"/>
<rect x="321" y="475" width="18" height="18" fill="#D0DCEA"/>
<rect x="339" y="475" width="18" height="18" fill="#E8EDF6"/>
<rect x="357" y="475" width="18" height="18" fill="#D0DCEA"/>
<rect x="375" y="475" width="18" height="18" fill="#E8EDF6"/>
<rect x="393" y="475" width="18" height="18" fill="#D0DCEA"/>
<rect x="411" y="475" width="18" height="18" fill="#E8EDF6"/>
<rect x="429" y="475" width="17" height="18" fill="#D0DCEA"/>
<rect x="446" y="475" width="18" height="18" fill="#E8EDF6"/>
<rect x="464" y="475" width="18" height="18" fill="#D0DCEA"/>
<rect x="482" y="475" width="18" height="18" fill="#E8EDF6"/>
<rect x="500" y="475" width="18" height="18" fill="#D0DCEA"/>
<rect x="518" y="475" width="18" height="18" fill="#E8EDF6"/>
<rect x="536" y="475" width="18" height="18" fill="#D0DCEA"/>
<rect x="554" y="475" width="18" height="18" fill="#E8EDF6"/>
<rect x="572" y="475" width="18" height="18" fill="#D0DCEA"/>
<rect x="590" y="475" width="18" height="18" fill="#D0DCEA"/>
<rect x="608" y="475" width="18" height="18" fill="#E8EDF6"/>
<rect x="626" y="475" width="18" height="18" fill="#D0DCEA"/>
<rect x="124" y="493" width="18" height="18" fill="#D7E0EC"/>
<rect x="142" y="493" width="18" height="18" fill="#C3D2E3"/>
<rect x="160" y="493" width="18" height="18" fill="#D7E0EC"/>
<rect x="178" y="493" width="18" height="18" fill="#C3D2E3"/>
<rect x="196" y="493" width="17" height="18" fill="#D7E0EC"/>
<rect x="213" y="493" width="18" height="18" fill="#C3D2E3"/>
<rect x="231" y="493" width="18" height="18" fill="#D7E0EC"/>
<rect x="249" y="493" width="18" height="18" fill="#C3D2E3"/>
<rect x="267" y="493" width="18" height="18" fill="#D7E0EC"/>
<rect x="285" y="493" width="18" height="18" fill="#C3D2E3"/>
<rect x="303" y="493" width="18" height="18" fill="#D7E0EC"/>
<rect x="321" y="493" width="18" height="18" fill="#C3D2E3"/>
<rect x="339" y="493" width="18" height="18" fill="#D7E0EC"/>
<rect x="357" y="493" width="18" height="18" fill="#C3D2E3"/>
<rect x="375" y="493" width="18" height="18" fill="#D7E0EC"/>
<rect x="393" y="493" width="18" height="18" fill="#C3D2E3"/>
<rect x="411" y="493" width="18" height="18" fill="#D7E0EC"/>
<rect x="429" y="493" width="17" height="18" fill="#C3D2E3"/>
<rect x="446" y="493" width="18" height="18" fill="#D7E0EC"/>
<rect x="464" y="493" width="18" height="18" fill="#C3D2E3"/>
<rect x="482" y="493" width="18" height="18" fill="#D7E0EC"/>
<rect x="500" y="493" width="18" height="18" fill="#C3D2E3"/>
<rect x="518" y="493" width="18" height="18" fill="#D7E0EC"/>
<rect x="536" y="493" width="18" height="18" fill="#C3D2E3"/>
<rect x="554" y="493" width="18" height="18" fill="#D7E0EC"/>
<rect x="572" y="493" width="18" height="18" fill="#C3D2E3"/>
<rect x="590" y="493" width="18" height="18" fill="#C3D2E3"/>
<rect x="608" y="493" width="18" height="18" fill="#D7E0EC"/>
<rect x="626" y="493" width="18" height="18" fill="#C3D2E3"/>
<rect x="124" y="511" width="18" height="18" fill="#E8EDF6"/>
<rect x="142" y="511" width="18" height="18" fill="#D0DCEA"/>
<rect x="160" y="511" width="18" height="18" fill="#E8EDF6"/>
<rect x="178" y="511" width="18" height="18" fill="#D0DCEA"/>
<rect x="196" y="511" width="17" height="18" fill="#E8EDF6"/>
<rect x="213" y="511" width="18" height="18" fill="#D0DCEA"/>
<rect x="231" y="511" width="18" height="18" fill="#E8EDF6"/>
<rect x="249" y="511" width="18" height="18" fill="#D0DCEA"/>
<rect x="267" y="511" width="18" height="18" fill="#E8EDF6"/>
<rect x="285" y="511" width="18" height="18" fill="#D0DCEA"/>
<rect x="303" y="511" width="18" height="18" fill="#E8EDF6"/>
<rect x="321" y="511" width="18" height="18" fill="#D0DCEA"/>
<rect x="339" y="511" width="18" height="18" fill="#E8EDF6"/>
<rect x="357" y="511" width="18" height="18" fill="#D0DCEA"/>
<rect x="375" y="511" width="18" height="18" fill="#E8EDF6"/>
<rect x="393" y="511" width="18" height="18" fill="#D0DCEA"/>
<rect x="411" y="511" width="18" height="18" fill="#E8EDF6"/>
<rect x="429" y="511" width="17" height="18" fill="#D0DCEA"/>
<rect x="446" y="511" width="18" height="18" fill="#E8EDF6"/>
<rect x="464" y="511" width="18" height="18" fill="#D0DCEA"/>
<rect x="482" y="511" width="18" height="18" fill="#E8EDF6"/>
<rect x="500" y="511" width="18" height="18" fill="#D0DCEA"/>
<rect x="518" y="511" width="18" height="18" fill="#E8EDF6"/>
<rect x="536" y="511" width="18" height="18" fill="#D0DCEA"/>
<rect x="554" y="511" width="18" height="18" fill="#E8EDF6"/>
<rect x="572" y="511" width="18" height="18" fill="#D0DCEA"/>
<rect x="590" y="511" width="18" height="18" fill="#D0DCEA"/>
<rect x="608" y="511" width="18" height="18" fill="#E8EDF6"/>
<rect x="626" y="511" width="18" height="18" fill="#D0DCEA"/>
<rect x="124" y="529" width="18" height="18" fill="#D7E0EC"/>
<rect x="142" y="529" width="18" height="18" fill="#C3D2E3"/>
<rect x="160" y="529" width="18" height="18" fill="#D7E0EC"/>
<rect x="178" y="529" width="18" height="18" fill="#C3D2E3"/>
<rect x="196" y="529" width="17" height="18" fill="#D7E0EC"/>
<rect x="213" y="529" width="18" height="18" fill="#C3D2E3"/>
<rect x="231" y="529" width="18" height="18" fill="#D7E0EC"/>
<rect x="249" y="529" width="18" height="18" fill="#C3D2E3"/>
<rect x="267" y="529" width="18" height="18" fill="#D7E0EC"/>
<rect x="285" y="529" width="18" height="18" fill="#C3D2E3"/>
<rect x="303" y="529" width="18" height="18" fill="#D7E0EC"/>
<rect x="321" y="529" width="18" height="18" fill="#C3D2E3"/>
<rect x="339" y="529" width="18" height="18" fill="#D7E0EC"/>
<rect x="357" y="529" width="18" height="18" fill="#C3D2E3"/>
<rect x="375" y="529" width="18" height="18" fill="#D7E0EC"/>
<rect x="393" y="529" width="18" height="18" fill="#C3D2E3"/>
<rect x="411" y="529" width="18" height="18" fill="#D7E0EC"/>
<rect x="429" y="529" width="17" height="18" fill="#C3D2E3"/>
<rect x="446" y="529" width="18" height="18" fill="#D7E0EC"/>
<rect x="464" y="529" width="18" height="18" fill="#C3D2E3"/>
<rect x="482" y="529" width="18" height="18" fill="#D7E0EC"/>
<rect x="500" y="529" width="18" height="18" fill="#C3D2E3"/>
<rect x="518" y="529" width="18" height="18" fill="#D7E0EC"/>
<rect x="536" y="529" width="18" height="18" fill="#C3D2E3"/>
<rect x="554" y="529" width="18" height="18" fill="#D7E0EC"/>
<rect x="572" y="529" width="18" height="18" fill="#C3D2E3"/>
<rect x="590" y="529" width="18" height="18" fill="#C3D2E3"/>
<rect x="608" y="529" width="18" height="18" fill="#D7E0EC"/>
<rect x="626" y="529" width="18" height="18" fill="#C3D2E3"/>
<rect x="124" y="547" width="18" height="18" fill="#E8EDF6"/>
<rect x="142" y="547" width="18" height="18" fill="#D0DCEA"/>
<rect x="160" y="547" width="18" height="18" fill="#E8EDF6"/>
<rect x="178" y="547" width="18" height="18" fill="#D0DCEA"/>
<rect x="196" y="547" width="17" height="18" fill="#E8EDF6"/>
<rect x="213" y="547" width="18" height="18" fill="#D0DCEA"/>
<rect x="231" y="547" width="18" height="18" fill="#E8EDF6"/>
<rect x="249" y="547" width="18" height="18" fill="#D0DCEA"/>
<rect x="267" y="547" width="18" height="18" fill="#E8EDF6"/>
<rect x="285" y="547" width="18" height="18" fill="#D0DCEA"/>
<rect x="303" y="547" width="18" height="18" fill="#E8EDF6"/>
<rect x="321" y="547" width="18" height="18" fill="#D0DCEA"/>
<rect x="339" y="547" width="18" height="18" fill="#E8EDF6"/>
<rect x="357" y="547" width="18" height="18" fill="#D0DCEA"/>
<rect x="375" y="547" width="18" height="18" fill="#E8EDF6"/>
<rect x="393" y="547" width="18" height="18" fill="#D0DCEA"/>
<rect x="411" y="547" width="18" height="18" fill="#E8EDF6"/>
<rect x="429" y="547" width="17" height="18" fill="#D0DCEA"/>
<rect x="446" y="547" width="18" height="18" fill="#E8EDF6"/>
<rect x="464" y="547" width="18" height="18" fill="#D0DCEA"/>
<rect x="482" y="547" width="18" height="18" fill="#E8EDF6"/>
<rect x="500" y="547" width="18" height="18" fill="#D0DCEA"/>
<rect x="518" y="547" width="18" height="18" fill="#E8EDF6"/>
<rect x="536" y="547" width="18" height="18" fill="#D0DCEA"/>
<rect x="554" y="547" width="18" height="18" fill="#E8EDF6"/>
<rect x="572" y="547" width="18" height="18" fill="#D0DCEA"/>
<rect x="590" y="547" width="18" height="18" fill="#D0DCEA"/>
<rect x="608" y="547" width="18" height="18" fill="#E8EDF6"/>
<rect x="626" y="547" width="18" height="18" fill="#D0DCEA"/>
<rect x="124" y="565" width="18" height="18" fill="#D7E0EC"/>
<rect x="142" y="565" width="18" height="18" fill="#C3D2E3"/>
<rect x="160" y="565" width="18" height="18" fill="#D7E0EC"/>
<rect x="178" y="565" width="18" height="18" fill="#C3D2E3"/>
<rect x="196" y="565" width="17" height="18" fill="#D7E0EC"/>
<rect x="213" y="565" width="18" height="18" fill="#C3D2E3"/>
<rect x="231" y="565" width="18" height="18" fill="#D7E0EC"/>
<rect x="249" y="565" width="18" height="18" fill="#C3D2E3"/>
<rect x="267" y="565" width="18" height="18" fill="#D7E0EC"/>
<rect x="285" y="565" width="18" height="18" fill="#C3D2E3"/>
<rect x="303" y="565" width="18" height="18" fill="#D7E0EC"/>
<rect x="321" y="565" width="18" height="18" fill="#C3D2E3"/>
<rect x="339" y="565" width="18" height="18" fill="#D7E0EC"/>
<rect x="357" y="565" width="18" height="18" fill="#C3D2E3"/>
<rect x="375" y="565" width="18" height="18" fill="#D7E0EC"/>
<rect x="393" y="565" width="18" height="18" fill="#C3D2E3"/>
<rect x="411" y="565" width="18" height="18" fill="#D7E0EC"/>
<rect x="429" y="565" width="17" height="18" fill="#C3D2E3"/>
<rect x="446" y="565" width="18" height="18" fill="#D7E0EC"/>
<rect x="464" y="565" width="18" height="18" fill="#C3D2E3"/>
<rect x="482" y="565" width="18" height="18" fill="#D7E0EC"/>
<rect x="500" y="565" width="18" height="18" fill="#C3D2E3"/>
<rect x="518" y="565" width="18" height="18" fill="#D7E0EC"/>
<rect x="536" y="565" width="18" height="18" fill="#C3D2E3"/>
<rect x="554" y="565" width="18" height="18" fill="#D7E0EC"/>
<rect x="572" y="565" width="18" height="18" fill="#C3D2E3"/>
<rect x="590" y="565" width="18" height="18" fill="#C3D2E3"/>
<rect x="608" y="565" width="18" height="18" fill="#D7E0EC"/>
<rect x="626" y="565" width="18" height="18" fill="#C3D2E3"/>
<rect x="124" y="583" width="18" height="18" fill="#E8EDF6"/>
<rect x="142" y="583" width="18" height="18" fill="#D0DCEA"/>
<rect x="160" y="583" width="18" height="18" fill="#E8EDF6"/>
<rect x="178" y="583" width="18" height="18" fill="#D0DCEA"/>
<rect x="196" y="583" width="17" height="18" fill="#E8EDF6"/>
<rect x="213" y="583" width="18" height="18" fill="#D0DCEA"/>
<rect x="231" y="583" width="18" height="18" fill="#E8EDF6"/>
<rect x="249" y="583" width="18" height="18" fill="#D0DCEA"/>
<rect x="267" y="583" width="18" height="18" fill="#E8EDF6"/>
<rect x="285" y="583" width="18" height="18" fill="#D0DCEA"/>
<rect x="303" y="583" width="18" height="18" fill="#E8EDF6"/>
<rect x="321" y="583" width="18" height="18" fill="#D0DCEA"/>
<rect x="339" y="583" width="18" height="18" fill="#E8EDF6"/>
<rect x="357" y="583" width="18" height="18" fill="#D0DCEA"/>
<rect x="375" y="583" width="18" height="18" fill="#E8EDF6"/>
<rect x="393" y="583" width="18" height="18" fill="#D0DCEA"/>
<rect x="411" y="583" width="18" height="18" fill="#E8EDF6"/>
<rect x="429" y="583" width="17" height="18" fill="#D0DCEA"/>
<rect x="446" y="583" width="18" height="18" fill="#E8EDF6"/>
<rect x="464" y="583" width="18" height="18" fill="#D0DCEA"/>
<rect x="482" y="583" width="18" height="18" fill="#E8EDF6"/>
<rect x="500" y="583" width="18" height="18" fill="#D0DCEA"/>
<rect x="518" y="583" width="18" height="18" fill="#E8EDF6"/>
<rect x="536" y="583" width="18" height="18" fill="#D0DCEA"/>
<rect x="554" y="583" width="18" height="18" fill="#E8EDF6"/>
<rect x="572" y="583" width="18" height="18" fill="#D0DCEA"/>
<rect x="590" y="583" width="18" height="18" fill="#D0DCEA"/>
<rect x="608" y="583" width="18" height="18" fill="#E8EDF6"/>
<rect x="626" y="583" width="18" height="18" fill="#D0DCEA"/>
<rect x="124" y="601" width="18" height="18" fill="#D7E0EC"/>
<rect x="142" y="601" width="18" height="18" fill="#C3D2E3"/>
<rect x="160" y="601" width="18" height="18" fill="#D7E0EC"/>
<rect x="178" y="601" width="18" height="18" fill="#C3D2E3"/>
<rect x="196" y="601" width="17" height="18" fill="#D7E0EC"/>
<rect x="213" y="601" width="18" height="18" fill="#C3D2E3"/>
<rect x="231" y="601" width="18" height="18" fill="#D7E0EC"/>
<rect x="249" y="601" width="18" height="18" fill="#C3D2E3"/>
<rect x="267" y="601" width="18" height="18" fill="#D7E0EC"/>
<rect x="285" y="601" width="18" height="18" fill="#C3D2E3"/>
<rect x="303" y="601" width="18" height="18" fill="#D7E0EC"/>
<rect x="321" y="601" width="18" height="18" fill="#C3D2E3"/>
<rect x="339" y="601" width="18" height="18" fill="#D7E0EC"/>
<rect x="357" y="601" width="18" height="18" fill="#C3D2E3"/>
<rect x="375" y="601" width="18" height="18" fill="#D7E0EC"/>
<rect x="393" y="601" width="18" height="18" fill="#C3D2E3"/>
<rect x="411" y="601" width="18" height="18" fill="#D7E0EC"/>
<rect x="429" y="601" width="17" height="18" fill="#C3D2E3"/>
<rect x="446" y="601" width="18" height="18" fill="#D7E0EC"/>
<rect x="464" y="601" width="18" height="18" fill="#C3D2E3"/>
<rect x="482" y="601" width="18" height="18" fill="#D7E0EC"/>
<rect x="500" y="601" width="18" height="18" fill="#C3D2E3"/>
<rect x="518" y="601" width="18" height="18" fill="#D7E0EC"/>
<rect x="536" y="601" width="18" height="18" fill="#C3D2E3"/>
<rect x="554" y="601" width="18" height="18" fill="#D7E0EC"/>
<rect x="572" y="601" width="18" height="18" fill="#C3D2E3"/>
<rect x="590" y="601" width="18" height="18" fill="#C3D2E3"/>
<rect x="608" y="601" width="18" height="18" fill="#D7E0EC"/>
<rect x="626" y="601" width="18" height="18" fill="#C3D2E3"/>
<rect x="124" y="619" width="18" height="18" fill="#E8EDF6"/>
<rect x="142" y="619" width="18" height="18" fill="#D0DCEA"/>
<rect x="160" y="619" width="18" height="18" fill="#E8EDF6"/>
<rect x="178" y="619" width="18" height="18" fill="#D0DCEA"/>
<rect x="196" y="619" width="17" height="18" fill="#E8EDF6"/>
<rect x="213" y="619" width="18" height="18" fill="#D0DCEA"/>
<rect x="231" y="619" width="18" height="18" fill="#E8EDF6"/>
<rect x="249" y="619" width="18" height="18" fill="#D0DCEA"/>
<rect x="267" y="619" width="18" height="18" fill="#E8EDF6"/>
<rect x="285" y="619" width="18" height="18" fill="#D0DCEA"/>
<rect x="303" y="619" width="18" height="18" fill="#E8EDF6"/>
<rect x="321" y="619" width="18" height="18" fill="#D0DCEA"/>
<rect x="339" y="619" width="18" height="18" fill="#E8EDF6"/>
<rect x="357" y="619" width="18" height="18" fill="#D0DCEA"/>
<rect x="375" y="619" width="18" height="18" fill="#E8EDF6"/>
<rect x="393" y="619" width="18" height="18" fill="#D0DCEA"/>
<rect x="411" y="619" width="18" height="18" fill="#E8EDF6"/>
<rect x="429" y="619" width="17" height="18" fill="#D0DCEA"/>
<rect x="446" y="619" width="18" height="18" fill="#E8EDF6"/>
<rect x="464" y="619" width="18" height="18" fill="#D0DCEA"/>
<rect x="482" y="619" width="18" height="18" fill="#E8EDF6"/>
<rect x="500" y="619" width="18" height="18" fill="#D0DCEA"/>
<rect x="518" y="619" width="18" height="18" fill="#E8EDF6"/>
<rect x="536" y="619" width="18" height="18" fill="#D0DCEA"/>
<rect x="554" y="619" width="18" height="18" fill="#E8EDF6"/>
<rect x="572" y="619" width="18" height="18" fill="#D0DCEA"/>
<rect x="590" y="619" width="18" height="18" fill="#D0DCEA"/>
<rect x="608" y="619" width="18" height="18" fill="#E8EDF6"/>
<rect x="626" y="619" width="18" height="18" fill="#D0DCEA"/>
<rect x="124" y="637" width="18" height="18" fill="#D7E0EC"/>
<rect x="142" y="637" width="18" height="18" fill="#C3D2E3"/>
<rect x="160" y="637" width="18" height="18" fill="#D7E0EC"/>
<rect x="178" y="637" width="18" height="18" fill="#C3D2E3"/>
<rect x="196" y="637" width="17" height="18" fill="#D7E0EC"/>
<rect x="213" y="637" width="18" height="18" fill="#C3D2E3"/>
<rect x="231" y="637" width="18" height="18" fill="#D7E0EC"/>
<rect x="249" y="637" width="18" height="18" fill="#C3D2E3"/>
<rect x="267" y="637" width="18" height="18" fill="#D7E0EC"/>
<rect x="285" y="637" width="18" height="18" fill="#C3D2E3"/>
<rect x="303" y="637" width="18" height="18" fill="#D7E0EC"/>
<rect x="321" y="637" width="18" height="18" fill="#C3D2E3"/>
<rect x="339" y="637" width="18" height="18" fill="#D7E0EC"/>
<rect x="357" y="637" width="18" height="18" fill="#C3D2E3"/>
<rect x="375" y="637" width="18" height="18" fill="#D7E0EC"/>
<rect x="393" y="637" width="18" height="18" fill="#C3D2E3"/>
<rect x="411" y="637" width="18" height="18" fill="#D7E0EC"/>
<rect x="429" y="637" width="17" height="18" fill="#C3D2E3"/>
<rect x="446" y="637" width="18" height="18" fill="#D7E0EC"/>
<rect x="464" y="637" width="18" height="18" fill="#C3D2E3"/>
<rect x="482" y="637" width="18" height="18" fill="#D7E0EC"/>
<rect x="500" y="637" width="18" height="18" fill="#C3D2E3"/>
<rect x="518" y="637" width="18" height="18" fill="#D7E0EC"/>
<rect x="536" y="637" width="18" height="18" fill="#C3D2E3"/>
<rect x="554" y="637" width="18" height="18" fill="#D7E0EC"/>
<rect x="572" y="637" width="18" height="18" fill="#C3D2E3"/>
<rect x="590" y="637" width="18" height="18" fill="#C3D2E3"/>
<rect x="608" y="637" width="18" height="18" fill="#D7E0EC"/>
<rect x="626" y="637" width="18" height="18" fill="#C3D2E3"/>
<rect x="124" y="655" width="18" height="18" fill="#E8EDF6"/>
<rect x="142" y="655" width="18" height="18" fill="#D0DCEA"/>
<rect x="160" y="655" width="18" height="18" fill="#E8EDF6"/>
<rect x="178" y="655" width="18" height="18" fill="#D0DCEA"/>
<rect x="196" y="655" width="17" height="18" fill="#E8EDF6"/>
<rect x="213" y="655" width="18" height="18" fill="#D0DCEA"/>
<rect x="231" y="655" width="18" height="18" fill="#E8EDF6"/>
<rect x="249" y="655" width="18" height="18" fill="#D0DCEA"/>
<rect x="267" y="655" width="18" height="18" fill="#E8EDF6"/>
<rect x="285" y="655" width="18" height="18" fill="#D0DCEA"/>
<rect x="303" y="655" width="18" height="18" fill="#E8EDF6"/>
<rect x="321" y="655" width="18" height="18" fill="#D0DCEA"/>
<rect x="339" y="655" width="18" height="18" fill="#E8EDF6"/>
<rect x="357" y="655" width="18" height="18" fill="#D0DCEA"/>
<rect x="375" y="655" width="18" height="18" fill="#E8EDF6"/>
<rect x="393" y="655" width="18" height="18" fill="#D0DCEA"/>
<rect x="411" y="655" width="18" height="18" fill="#E8EDF6"/>
<rect x="429" y="655" width="17" height="18" fill="#D0DCEA"/>
<rect x="446" y="655" width="18" height="18" fill="#E8EDF6"/>
<rect x="464" y="655" width="18" height="18" fill="#D0DCEA"/>
<rect x="482" y="655" width="18" height="18" fill="#E8EDF6"/>
<rect x="500" y="655" width="18" height="18" fill="#D0DCEA"/>
<rect x="518" y="655" width="18" height="18" fill="#E8EDF6"/>
<rect x="536" y="655" width="18" height="18" fill="#D0DCEA"/>
<rect x="554" y="655" width="18" height="18" fill="#E8EDF6"/>
<rect x="572" y="655" width="18" height="18" fill="#D0DCEA"/>
<rect x="590" y="655" width="18" height="18" fill="#D0DCEA"/>
<rect x="608" y="655" width="18" height="18" fill="#E8EDF6"/>
<rect x="626" y="655" width="18" height="18" fill="#D0DCEA"/>
</g>
<rect x="123.75" y="14" width="1.3" height="660.30" fill="#A5B9DE"/>
<rect x="141.67" y="14" width="1.3" height="660.30" fill="#A5B9DE"/>
<rect x="159.59" y="14" width="1.3" height="660.30" fill="#A5B9DE"/>
<rect x="177.50" y="14" width="1.3" height="660.30" fill="#A5B9DE"/>
<rect x="195.42" y="14" width="1.3" height="660.30" fill="#A5B9DE"/>
<rect x="213.34" y="14" width="1.3" height="660.30" fill="#A5B9DE"/>
<rect x="231.26" y="14" width="1.3" height="660.30" fill="#A5B9DE"/>
<rect x="249.18" y="14" width="1.3" height="660.30" fill="#A5B9DE"/>
<rect x="267.09" y="14" width="1.3" height="660.30" fill="#A5B9DE"/>
<rect x="285.01" y="14" width="1.3" height="660.30" fill="#A5B9DE"/>
<rect x="302.93" y="14" width="1.3" height="660.30" fill="#A5B9DE"/>
<rect x="320.85" y="14" width="1.3" height="660.30" fill="#A5B9DE"/>
<rect x="338.77" y="14" width="1.3" height="660.30" fill="#A5B9DE"/>
<rect x="356.68" y="14" width="1.3" height="660.30" fill="#A5B9DE"/>
<rect x="374.60" y="14" width="1.3" height="660.30" fill="#A5B9DE"/>
<rect x="392.52" y="14" width="1.3" height="660.30" fill="#A5B9DE"/>
<rect x="410.44" y="14" width="1.3" height="660.30" fill="#A5B9DE"/>
<rect x="428.36" y="14" width="1.3" height="660.30" fill="#A5B9DE"/>
<rect x="446.27" y="14" width="1.3" height="660.30" fill="#A5B9DE"/>
<rect x="464.19" y="14" width="1.3" height="660.30" fill="#A5B9DE"/>
<rect x="482.11" y="14" width="1.3" height="660.30" fill="#A5B9DE"/>
<rect x="500.03" y="14" width="1.3" height="660.30" fill="#A5B9DE"/>
<rect x="517.95" y="14" width="1.3" height="660.30" fill="#A5B9DE"/>
<rect x="535.86" y="14" width="1.3" height="660.30" fill="#A5B9DE"/>
<rect x="553.78" y="14" width="1.3" height="660.30" fill="#A5B9DE"/>
<rect x="571.70" y="14" width="1.3" height="660.30" fill="#A5B9DE"/>
<rect x="589.62" y="14" width="1.3" height="660.30" fill="#A5B9DE"/>
<rect x="607.54" y="14" width="1.3" height="660.30" fill="#A5B9DE"/>
<rect x="625.45" y="14" width="1.3" height="660.30" fill="#A5B9DE"/>
<rect x="643.37" y="14" width="1.3" height="660.30" fill="#A5B9DE"/>
<rect x="123.75" y="14.4" width="520.92" height="1" fill="#BFCDE6"/>
<rect x="10" y="150.60" width="634.67" height="1.6" fill="#B8C8E3"/>
<rect x="10" y="168.50" width="634.67" height="1.6" fill="#B8C8E3"/>
<rect x="10" y="186.60" width="634.67" height="1.6" fill="#B8C8E3"/>
<rect x="10" y="205.20" width="634.67" height="1.6" fill="#B8C8E3"/>
<rect x="10" y="223.50" width="634.67" height="1.6" fill="#B8C8E3"/>
<rect x="10" y="241.60" width="634.67" height="1.6" fill="#B8C8E3"/>
<rect x="10" y="258.90" width="634.67" height="1.6" fill="#B8C8E3"/>
<rect x="10" y="277.40" width="634.67" height="1.6" fill="#B8C8E3"/>
<rect x="10" y="295.10" width="634.67" height="1.6" fill="#B8C8E3"/>
<rect x="10" y="313.20" width="634.67" height="1.6" fill="#B8C8E3"/>
<rect x="10" y="330.40" width="634.67" height="1.6" fill="#B8C8E3"/>
<rect x="10" y="348.90" width="634.67" height="1.6" fill="#B8C8E3"/>
<rect x="10" y="366.80" width="634.67" height="1.6" fill="#B8C8E3"/>
<rect x="10" y="385.70" width="634.67" height="1.6" fill="#B8C8E3"/>
<rect x="10" y="403.00" width="634.67" height="1.6" fill="#B8C8E3"/>
<rect x="10" y="421.10" width="634.67" height="1.6" fill="#B8C8E3"/>
<rect x="10" y="438.90" width="634.67" height="1.6" fill="#B8C8E3"/>
<rect x="10" y="457.00" width="634.67" height="1.6" fill="#B8C8E3"/>
<rect x="10" y="475.10" width="634.67" height="1.6" fill="#B8C8E3"/>
<rect x="10" y="492.80" width="634.67" height="1.6" fill="#B8C8E3"/>
<rect x="10" y="510.40" width="634.67" height="1.6" fill="#B8C8E3"/>
<rect x="10" y="528.90" width="634.67" height="1.6" fill="#B8C8E3"/>
<rect x="10" y="546.60" width="634.67" height="1.6" fill="#B8C8E3"/>
<rect x="10" y="564.70" width="634.67" height="1.6" fill="#B8C8E3"/>
<rect x="10" y="582.70" width="634.67" height="1.6" fill="#B8C8E3"/>
<rect x="10" y="600.80" width="634.67" height="1.6" fill="#B8C8E3"/>
<rect x="10" y="618.90" width="634.67" height="1.6" fill="#B8C8E3"/>
<rect x="10" y="637.00" width="634.67" height="1.6" fill="#B8C8E3"/>
<rect x="10" y="654.70" width="634.67" height="1.6" fill="#B8C8E3"/>
<rect x="10" y="672.70" width="634.67" height="1.6" fill="#B8C8E3"/>
<rect x="10" y="150.60" width="1" height="523.70" fill="#B4C4E2"/>
<rect x="146.85" y="154.80" width="11.9" height="12.6" rx="4.2" fill="#000000"/>
<rect x="163.15" y="154.80" width="11.9" height="12.6" rx="4.2" fill="#000000"/>
<rect x="181.05" y="154.80" width="11.9" height="12.6" rx="4.2" fill="#000000"/>
<rect x="198.65" y="154.80" width="11.9" height="12.6" rx="4.2" fill="#000000"/>
<rect x="217.25" y="154.80" width="11.9" height="12.6" rx="4.2" fill="#000000"/>
<rect x="234.35" y="154.80" width="11.9" height="12.6" rx="4.2" fill="#000000"/>
<rect x="253.45" y="154.80" width="11.9" height="12.6" rx="4.2" fill="#000000"/>
<rect x="269.85" y="154.80" width="11.9" height="12.6" rx="4.2" fill="#000000"/>
<rect x="288.15" y="154.80" width="11.9" height="12.6" rx="4.2" fill="#000000"/>
<rect x="306.05" y="154.80" width="11.9" height="12.6" rx="4.2" fill="#000000"/>
<rect x="324.05" y="154.80" width="11.9" height="12.6" rx="4.2" fill="#000000"/>
<rect x="342.45" y="154.80" width="11.9" height="12.6" rx="4.2" fill="#000000"/>
<rect x="359.15" y="154.80" width="11.9" height="12.6" rx="4.2" fill="#000000"/>
<rect x="377.15" y="154.80" width="11.9" height="12.6" rx="4.2" fill="#000000"/>
<rect x="395.10" y="155.15" width="11.20" height="11.90" rx="3.85" fill="#E8282B" stroke="#B52422" stroke-width="0.7"/>
<rect x="413.60" y="155.15" width="11.20" height="11.90" rx="3.85" fill="#E8282B" stroke="#B52422" stroke-width="0.7"/>
<rect x="431.95" y="154.80" width="11.9" height="12.6" rx="4.2" fill="#000000"/>
<rect x="449.85" y="154.80" width="11.9" height="12.6" rx="4.2" fill="#000000"/>
<rect x="468.25" y="154.80" width="11.9" height="12.6" rx="4.2" fill="#000000"/>
<rect x="485.65" y="154.80" width="11.9" height="12.6" rx="4.2" fill="#000000"/>
<rect x="505.10" y="155.15" width="11.20" height="11.90" rx="3.85" fill="#E8282B" stroke="#B52422" stroke-width="0.7"/>
<rect x="522.15" y="154.80" width="11.9" height="12.6" rx="4.2" fill="#000000"/>
<rect x="539.30" y="155.15" width="11.20" height="11.90" rx="3.85" fill="#E8282B" stroke="#B52422" stroke-width="0.7"/>
<rect x="557.40" y="155.15" width="11.20" height="11.90" rx="3.85" fill="#E8282B" stroke="#B52422" stroke-width="0.7"/>
<rect x="576.50" y="155.15" width="11.20" height="11.90" rx="3.85" fill="#E8282B" stroke="#B52422" stroke-width="0.7"/>
<rect x="594.00" y="155.15" width="11.20" height="11.90" rx="3.85" fill="#E8282B" stroke="#B52422" stroke-width="0.7"/>
<rect x="612.30" y="155.15" width="11.20" height="11.90" rx="3.85" fill="#E8282B" stroke="#B52422" stroke-width="0.7"/>
<rect x="629.90" y="155.15" width="11.20" height="11.90" rx="3.85" fill="#E8282B" stroke="#B52422" stroke-width="0.7"/>
<rect x="128.75" y="173.60" width="11.9" height="12.6" rx="4.2" fill="#000000"/>
<rect x="163.15" y="173.60" width="11.9" height="12.6" rx="4.2" fill="#000000"/>
<rect x="181.05" y="173.60" width="11.9" height="12.6" rx="4.2" fill="#000000"/>
<rect x="198.65" y="173.60" width="11.9" height="12.6" rx="4.2" fill="#000000"/>
<rect x="217.25" y="173.60" width="11.9" height="12.6" rx="4.2" fill="#000000"/>
<rect x="234.35" y="173.60" width="11.9" height="12.6" rx="4.2" fill="#000000"/>
<rect x="253.45" y="173.60" width="11.9" height="12.6" rx="4.2" fill="#000000"/>
<rect x="269.85" y="173.60" width="11.9" height="12.6" rx="4.2" fill="#000000"/>
<rect x="288.15" y="173.60" width="11.9" height="12.6" rx="4.2" fill="#000000"/>
<rect x="306.05" y="173.60" width="11.9" height="12.6" rx="4.2" fill="#000000"/>
<rect x="324.05" y="173.60" width="11.9" height="12.6" rx="4.2" fill="#000000"/>
<rect x="342.45" y="173.60" width="11.9" height="12.6" rx="4.2" fill="#000000"/>
<rect x="359.15" y="173.60" width="11.9" height="12.6" rx="4.2" fill="#000000"/>
<rect x="377.15" y="173.60" width="11.9" height="12.6" rx="4.2" fill="#000000"/>
<rect x="395.10" y="173.95" width="11.20" height="11.90" rx="3.85" fill="#E8282B" stroke="#B52422" stroke-width="0.7"/>
<rect x="413.60" y="173.95" width="11.20" height="11.90" rx="3.85" fill="#E8282B" stroke="#B52422" stroke-width="0.7"/>
<rect x="431.95" y="173.60" width="11.9" height="12.6" rx="4.2" fill="#000000"/>
<rect x="449.85" y="173.60" width="11.9" height="12.6" rx="4.2" fill="#000000"/>
<rect x="468.25" y="173.60" width="11.9" height="12.6" rx="4.2" fill="#000000"/>
<rect x="485.65" y="173.60" width="11.9" height="12.6" rx="4.2" fill="#000000"/>
<rect x="505.10" y="173.95" width="11.20" height="11.90" rx="3.85" fill="#E8282B" stroke="#B52422" stroke-width="0.7"/>
<rect x="522.15" y="173.60" width="11.9" height="12.6" rx="4.2" fill="#000000"/>
<rect x="539.30" y="173.95" width="11.20" height="11.90" rx="3.85" fill="#E8282B" stroke="#B52422" stroke-width="0.7"/>
<rect x="557.40" y="173.95" width="11.20" height="11.90" rx="3.85" fill="#E8282B" stroke="#B52422" stroke-width="0.7"/>
<rect x="576.50" y="173.95" width="11.20" height="11.90" rx="3.85" fill="#E8282B" stroke="#B52422" stroke-width="0.7"/>
<rect x="594.00" y="173.95" width="11.20" height="11.90" rx="3.85" fill="#E8282B" stroke="#B52422" stroke-width="0.7"/>
<rect x="612.30" y="173.95" width="11.20" height="11.90" rx="3.85" fill="#E8282B" stroke="#B52422" stroke-width="0.7"/>
<rect x="629.90" y="173.95" width="11.20" height="11.90" rx="3.85" fill="#E8282B" stroke="#B52422" stroke-width="0.7"/>
<rect x="128.75" y="190.30" width="11.9" height="12.6" rx="4.2" fill="#000000"/>
<rect x="146.85" y="190.30" width="11.9" height="12.6" rx="4.2" fill="#000000"/>
<rect x="181.05" y="190.30" width="11.9" height="12.6" rx="4.2" fill="#000000"/>
<rect x="198.65" y="190.30" width="11.9" height="12.6" rx="4.2" fill="#000000"/>
<rect x="217.25" y="190.30" width="11.9" height="12.6" rx="4.2" fill="#000000"/>
<rect x="234.35" y="190.30" width="11.9" height="12.6" rx="4.2" fill="#000000"/>
<rect x="253.45" y="190.30" width="11.9" height="12.6" rx="4.2" fill="#000000"/>
<rect x="269.85" y="190.30" width="11.9" height="12.6" rx="4.2" fill="#000000"/>
<rect x="288.15" y="190.30" width="11.9" height="12.6" rx="4.2" fill="#000000"/>
<rect x="306.05" y="190.30" width="11.9" height="12.6" rx="4.2" fill="#000000"/>
<rect x="324.05" y="190.30" width="11.9" height="12.6" rx="4.2" fill="#000000"/>
<rect x="342.45" y="190.30" width="11.9" height="12.6" rx="4.2" fill="#000000"/>
<rect x="359.15" y="190.30" width="11.9" height="12.6" rx="4.2" fill="#000000"/>
<rect x="377.15" y="190.30" width="11.9" height="12.6" rx="4.2" fill="#000000"/>
<rect x="395.10" y="190.65" width="11.20" height="11.90" rx="3.85" fill="#E8282B" stroke="#B52422" stroke-width="0.7"/>
<rect x="413.25" y="190.30" width="11.9" height="12.6" rx="4.2" fill="#000000"/>
<rect x="431.95" y="190.30" width="11.9" height="12.6" rx="4.2" fill="#000000"/>
<rect x="449.85" y="190.30" width="11.9" height="12.6" rx="4.2" fill="#000000"/>
<rect x="468.25" y="190.30" width="11.9" height="12.6" rx="4.2" fill="#000000"/>
<rect x="485.65" y="190.30" width="11.9" height="12.6" rx="4.2" fill="#000000"/>
<rect x="505.10" y="190.65" width="11.20" height="11.90" rx="3.85" fill="#E8282B" stroke="#B52422" stroke-width="0.7"/>
<rect x="522.15" y="190.30" width="11.9" height="12.6" rx="4.2" fill="#000000"/>
<rect x="539.30" y="190.65" width="11.20" height="11.90" rx="3.85" fill="#E8282B" stroke="#B52422" stroke-width="0.7"/>
<rect x="557.40" y="190.65" width="11.20" height="11.90" rx="3.85" fill="#E8282B" stroke="#B52422" stroke-width="0.7"/>
<rect x="576.50" y="190.65" width="11.20" height="11.90" rx="3.85" fill="#E8282B" stroke="#B52422" stroke-width="0.7"/>
<rect x="594.00" y="190.65" width="11.20" height="11.90" rx="3.85" fill="#E8282B" stroke="#B52422" stroke-width="0.7"/>
<rect x="612.30" y="190.65" width="11.20" height="11.90" rx="3.85" fill="#E8282B" stroke="#B52422" stroke-width="0.7"/>
<rect x="629.90" y="190.65" width="11.20" height="11.90" rx="3.85" fill="#E8282B" stroke="#B52422" stroke-width="0.7"/>
<rect x="128.75" y="209.90" width="11.9" height="12.6" rx="4.2" fill="#000000"/>
<rect x="146.85" y="209.90" width="11.9" height="12.6" rx="4.2" fill="#000000"/>
<rect x="163.15" y="209.90" width="11.9" height="12.6" rx="4.2" fill="#000000"/>
<rect x="198.65" y="209.90" width="11.9" height="12.6" rx="4.2" fill="#000000"/>
<rect x="217.25" y="209.90" width="11.9" height="12.6" rx="4.2" fill="#000000"/>
<rect x="234.35" y="209.90" width="11.9" height="12.6" rx="4.2" fill="#000000"/>
<rect x="253.45" y="209.90" width="11.9" height="12.6" rx="4.2" fill="#000000"/>
<rect x="269.85" y="209.90" width="11.9" height="12.6" rx="4.2" fill="#000000"/>
<rect x="288.15" y="209.90" width="11.9" height="12.6" rx="4.2" fill="#000000"/>
<rect x="306.05" y="209.90" width="11.9" height="12.6" rx="4.2" fill="#000000"/>
<rect x="324.05" y="209.90" width="11.9" height="12.6" rx="4.2" fill="#000000"/>
<rect x="342.45" y="209.90" width="11.9" height="12.6" rx="4.2" fill="#000000"/>
<rect x="359.15" y="209.90" width="11.9" height="12.6" rx="4.2" fill="#000000"/>
<rect x="377.15" y="209.90" width="11.9" height="12.6" rx="4.2" fill="#000000"/>
<rect x="395.10" y="210.25" width="11.20" height="11.90" rx="3.85" fill="#E8282B" stroke="#B52422" stroke-width="0.7"/>
<rect x="413.60" y="210.25" width="11.20" height="11.90" rx="3.85" fill="#E8282B" stroke="#B52422" stroke-width="0.7"/>
<rect x="431.95" y="209.90" width="11.9" height="12.6" rx="4.2" fill="#000000"/>
<rect x="449.85" y="209.90" width="11.9" height="12.6" rx="4.2" fill="#000000"/>
<rect x="468.25" y="209.90" width="11.9" height="12.6" rx="4.2" fill="#000000"/>
<rect x="485.65" y="209.90" width="11.9" height="12.6" rx="4.2" fill="#000000"/>
<rect x="505.10" y="210.25" width="11.20" height="11.90" rx="3.85" fill="#E8282B" stroke="#B52422" stroke-width="0.7"/>
<rect x="522.15" y="209.90" width="11.9" height="12.6" rx="4.2" fill="#000000"/>
<rect x="539.30" y="210.25" width="11.20" height="11.90" rx="3.85" fill="#E8282B" stroke="#B52422" stroke-width="0.7"/>
<rect x="557.40" y="210.25" width="11.20" height="11.90" rx="3.85" fill="#E8282B" stroke="#B52422" stroke-width="0.7"/>
<rect x="576.50" y="210.25" width="11.20" height="11.90" rx="3.85" fill="#E8282B" stroke="#B52422" stroke-width="0.7"/>
<rect x="594.00" y="210.25" width="11.20" height="11.90" rx="3.85" fill="#E8282B" stroke="#B52422" stroke-width="0.7"/>
<rect x="612.30" y="210.25" width="11.20" height="11.90" rx="3.85" fill="#E8282B" stroke="#B52422" stroke-width="0.7"/>
<rect x="629.90" y="210.25" width="11.20" height="11.90" rx="3.85" fill="#E8282B" stroke="#B52422" stroke-width="0.7"/>
<rect x="128.75" y="226.10" width="11.9" height="12.6" rx="4.2" fill="#000000"/>
<rect x="146.85" y="226.10" width="11.9" height="12.6" rx="4.2" fill="#000000"/>
<rect x="163.15" y="226.10" width="11.9" height="12.6" rx="4.2" fill="#000000"/>
<rect x="181.05" y="226.10" width="11.9" height="12.6" rx="4.2" fill="#000000"/>
<rect x="217.25" y="226.10" width="11.9" height="12.6" rx="4.2" fill="#000000"/>
<rect x="234.35" y="226.10" width="11.9" height="12.6" rx="4.2" fill="#000000"/>
<rect x="253.45" y="226.10" width="11.9" height="12.6" rx="4.2" fill="#000000"/>
<rect x="269.85" y="226.10" width="11.9" height="12.6" rx="4.2" fill="#000000"/>
<rect x="288.15" y="226.10" width="11.9" height="12.6" rx="4.2" fill="#000000"/>
<rect x="306.05" y="226.10" width="11.9" height="12.6" rx="4.2" fill="#000000"/>
<rect x="324.05" y="226.10" width="11.9" height="12.6" rx="4.2" fill="#000000"/>
<rect x="342.45" y="226.10" width="11.9" height="12.6" rx="4.2" fill="#000000"/>
<rect x="359.15" y="226.10" width="11.9" height="12.6" rx="4.2" fill="#000000"/>
<rect x="377.15" y="226.10" width="11.9" height="12.6" rx="4.2" fill="#000000"/>
<rect x="395.10" y="226.45" width="11.20" height="11.90" rx="3.85" fill="#E8282B" stroke="#B52422" stroke-width="0.7"/>
<rect x="413.60" y="226.45" width="11.20" height="11.90" rx="3.85" fill="#E8282B" stroke="#B52422" stroke-width="0.7"/>
<rect x="431.95" y="226.10" width="11.9" height="12.6" rx="4.2" fill="#000000"/>
<rect x="449.85" y="226.10" width="11.9" height="12.6" rx="4.2" fill="#000000"/>
<rect x="468.25" y="226.10" width="11.9" height="12.6" rx="4.2" fill="#000000"/>
<rect x="485.65" y="226.10" width="11.9" height="12.6" rx="4.2" fill="#000000"/>
<rect x="505.10" y="226.45" width="11.20" height="11.90" rx="3.85" fill="#E8282B" stroke="#B52422" stroke-width="0.7"/>
<rect x="522.15" y="226.10" width="11.9" height="12.6" rx="4.2" fill="#000000"/>
<rect x="539.30" y="226.45" width="11.20" height="11.90" rx="3.85" fill="#E8282B" stroke="#B52422" stroke-width="0.7"/>
<rect x="557.40" y="226.45" width="11.20" height="11.90" rx="3.85" fill="#E8282B" stroke="#B52422" stroke-width="0.7"/>
<rect x="576.50" y="226.45" width="11.20" height="11.90" rx="3.85" fill="#E8282B" stroke="#B52422" stroke-width="0.7"/>
<rect x="594.00" y="226.45" width="11.20" height="11.90" rx="3.85" fill="#E8282B" stroke="#B52422" stroke-width="0.7"/>
<rect x="612.30" y="226.45" width="11.20" height="11.90" rx="3.85" fill="#E8282B" stroke="#B52422" stroke-width="0.7"/>
<rect x="629.90" y="226.45" width="11.20" height="11.90" rx="3.85" fill="#E8282B" stroke="#B52422" stroke-width="0.7"/>
<rect x="128.75" y="244.30" width="11.9" height="12.6" rx="4.2" fill="#000000"/>
<rect x="146.85" y="244.30" width="11.9" height="12.6" rx="4.2" fill="#000000"/>
<rect x="163.15" y="244.30" width="11.9" height="12.6" rx="4.2" fill="#000000"/>
<rect x="181.05" y="244.30" width="11.9" height="12.6" rx="4.2" fill="#000000"/>
<rect x="198.65" y="244.30" width="11.9" height="12.6" rx="4.2" fill="#000000"/>
<rect x="234.70" y="244.65" width="11.20" height="11.90" rx="3.85" fill="#E8282B" stroke="#B52422" stroke-width="0.7"/>
<rect x="253.45" y="244.30" width="11.9" height="12.6" rx="4.2" fill="#000000"/>
<rect x="269.85" y="244.30" width="11.9" height="12.6" rx="4.2" fill="#000000"/>
<rect x="288.15" y="244.30" width="11.9" height="12.6" rx="4.2" fill="#000000"/>
<rect x="306.05" y="244.30" width="11.9" height="12.6" rx="4.2" fill="#000000"/>
<rect x="324.05" y="244.30" width="11.9" height="12.6" rx="4.2" fill="#000000"/>
<rect x="342.45" y="244.30" width="11.9" height="12.6" rx="4.2" fill="#000000"/>
<rect x="359.15" y="244.30" width="11.9" height="12.6" rx="4.2" fill="#000000"/>
<rect x="377.15" y="244.30" width="11.9" height="12.6" rx="4.2" fill="#000000"/>
<rect x="395.10" y="244.65" width="11.20" height="11.90" rx="3.85" fill="#E8282B" stroke="#B52422" stroke-width="0.7"/>
<rect x="413.60" y="244.65" width="11.20" height="11.90" rx="3.85" fill="#E8282B" stroke="#B52422" stroke-width="0.7"/>
<rect x="431.95" y="244.30" width="11.9" height="12.6" rx="4.2" fill="#000000"/>
<rect x="449.85" y="244.30" width="11.9" height="12.6" rx="4.2" fill="#000000"/>
<rect x="468.60" y="244.65" width="11.20" height="11.90" rx="3.85" fill="#E8282B" stroke="#B52422" stroke-width="0.7"/>
<rect x="486.00" y="244.65" width="11.20" height="11.90" rx="3.85" fill="#E8282B" stroke="#B52422" stroke-width="0.7"/>
<rect x="505.10" y="244.65" width="11.20" height="11.90" rx="3.85" fill="#E8282B" stroke="#B52422" stroke-width="0.7"/>
<rect x="522.50" y="244.65" width="11.20" height="11.90" rx="3.85" fill="#E8282B" stroke="#B52422" stroke-width="0.7"/>
<rect x="539.30" y="244.65" width="11.20" height="11.90" rx="3.85" fill="#E8282B" stroke="#B52422" stroke-width="0.7"/>
<rect x="557.40" y="244.65" width="11.20" height="11.90" rx="3.85" fill="#E8282B" stroke="#B52422" stroke-width="0.7"/>
<rect x="576.50" y="244.65" width="11.20" height="11.90" rx="3.85" fill="#E8282B" stroke="#B52422" stroke-width="0.7"/>
<rect x="594.00" y="244.65" width="11.20" height="11.90" rx="3.85" fill="#E8282B" stroke="#B52422" stroke-width="0.7"/>
<rect x="612.30" y="244.65" width="11.20" height="11.90" rx="3.85" fill="#E8282B" stroke="#B52422" stroke-width="0.7"/>
<rect x="629.90" y="244.65" width="11.20" height="11.90" rx="3.85" fill="#E8282B" stroke="#B52422" stroke-width="0.7"/>
<rect x="128.75" y="262.45" width="11.9" height="12.6" rx="4.2" fill="#000000"/>
<rect x="146.85" y="262.45" width="11.9" height="12.6" rx="4.2" fill="#000000"/>
<rect x="163.15" y="262.45" width="11.9" height="12.6" rx="4.2" fill="#000000"/>
<rect x="181.05" y="262.45" width="11.9" height="12.6" rx="4.2" fill="#000000"/>
<rect x="198.65" y="262.45" width="11.9" height="12.6" rx="4.2" fill="#000000"/>
<rect x="217.60" y="262.80" width="11.20" height="11.90" rx="3.85" fill="#E8282B" stroke="#B52422" stroke-width="0.7"/>
<rect x="253.45" y="262.45" width="11.9" height="12.6" rx="4.2" fill="#000000"/>
<rect x="269.85" y="262.45" width="11.9" height="12.6" rx="4.2" fill="#000000"/>
<rect x="288.50" y="262.80" width="11.20" height="11.90" rx="3.85" fill="#E8282B" stroke="#B52422" stroke-width="0.7"/>
<rect x="306.05" y="262.45" width="11.9" height="12.6" rx="4.2" fill="#000000"/>
<rect x="324.05" y="262.45" width="11.9" height="12.6" rx="4.2" fill="#000000"/>
<rect x="342.45" y="262.45" width="11.9" height="12.6" rx="4.2" fill="#000000"/>
<rect x="359.15" y="262.45" width="11.9" height="12.6" rx="4.2" fill="#000000"/>
<rect x="377.15" y="262.45" width="11.9" height="12.6" rx="4.2" fill="#000000"/>
<rect x="395.10" y="262.80" width="11.20" height="11.90" rx="3.85" fill="#E8282B" stroke="#B52422" stroke-width="0.7"/>
<rect x="413.60" y="262.80" width="11.20" height="11.90" rx="3.85" fill="#E8282B" stroke="#B52422" stroke-width="0.7"/>
<rect x="431.95" y="262.45" width="11.9" height="12.6" rx="4.2" fill="#000000"/>
<rect x="449.85" y="262.45" width="11.9" height="12.6" rx="4.2" fill="#000000"/>
<rect x="468.25" y="262.45" width="11.9" height="12.6" rx="4.2" fill="#000000"/>
<rect x="485.65" y="262.45" width="11.9" height="12.6" rx="4.2" fill="#000000"/>
<rect x="504.75" y="262.45" width="11.9" height="12.6" rx="4.2" fill="#000000"/>
<rect x="522.15" y="262.45" width="11.9" height="12.6" rx="4.2" fill="#000000"/>
<rect x="538.95" y="262.45" width="11.9" height="12.6" rx="4.2" fill="#000000"/>
<rect x="557.05" y="262.45" width="11.9" height="12.6" rx="4.2" fill="#000000"/>
<rect x="576.50" y="262.80" width="11.20" height="11.90" rx="3.85" fill="#E8282B" stroke="#B52422" stroke-width="0.7"/>
<rect x="594.00" y="262.80" width="11.20" height="11.90" rx="3.85" fill="#E8282B" stroke="#B52422" stroke-width="0.7"/>
<rect x="612.30" y="262.80" width="11.20" height="11.90" rx="3.85" fill="#E8282B" stroke="#B52422" stroke-width="0.7"/>
<rect x="629.90" y="262.80" width="11.20" height="11.90" rx="3.85" fill="#E8282B" stroke="#B52422" stroke-width="0.7"/>
<rect x="128.75" y="281.30" width="11.9" height="12.6" rx="4.2" fill="#000000"/>
<rect x="146.85" y="281.30" width="11.9" height="12.6" rx="4.2" fill="#000000"/>
<rect x="163.15" y="281.30" width="11.9" height="12.6" rx="4.2" fill="#000000"/>
<rect x="181.05" y="281.30" width="11.9" height="12.6" rx="4.2" fill="#000000"/>
<rect x="198.65" y="281.30" width="11.9" height="12.6" rx="4.2" fill="#000000"/>
<rect x="217.25" y="281.30" width="11.9" height="12.6" rx="4.2" fill="#000000"/>
<rect x="234.35" y="281.30" width="11.9" height="12.6" rx="4.2" fill="#000000"/>
<rect x="269.85" y="281.30" width="11.9" height="12.6" rx="4.2" fill="#000000"/>
<rect x="288.15" y="281.30" width="11.9" height="12.6" rx="4.2" fill="#000000"/>
<rect x="306.05" y="281.30" width="11.9" height="12.6" rx="4.2" fill="#000000"/>
<rect x="324.05" y="281.30" width="11.9" height="12.6" rx="4.2" fill="#000000"/>
<rect x="342.45" y="281.30" width="11.9" height="12.6" rx="4.2" fill="#000000"/>
<rect x="359.15" y="281.30" width="11.9" height="12.6" rx="4.2" fill="#000000"/>
<rect x="377.15" y="281.30" width="11.9" height="12.6" rx="4.2" fill="#000000"/>
<rect x="395.10" y="281.65" width="11.20" height="11.90" rx="3.85" fill="#E8282B" stroke="#B52422" stroke-width="0.7"/>
<rect x="413.60" y="281.65" width="11.20" height="11.90" rx="3.85" fill="#E8282B" stroke="#B52422" stroke-width="0.7"/>
<rect x="431.95" y="281.30" width="11.9" height="12.6" rx="4.2" fill="#000000"/>
<rect x="449.85" y="281.30" width="11.9" height="12.6" rx="4.2" fill="#000000"/>
<rect x="468.60" y="281.65" width="11.20" height="11.90" rx="3.85" fill="#E8282B" stroke="#B52422" stroke-width="0.7"/>
<rect x="486.00" y="281.65" width="11.20" height="11.90" rx="3.85" fill="#E8282B" stroke="#B52422" stroke-width="0.7"/>
<rect x="505.10" y="281.65" width="11.20" height="11.90" rx="3.85" fill="#E8282B" stroke="#B52422" stroke-width="0.7"/>
<rect x="522.50" y="281.65" width="11.20" height="11.90" rx="3.85" fill="#E8282B" stroke="#B52422" stroke-width="0.7"/>
<rect x="539.30" y="281.65" width="11.20" height="11.90" rx="3.85" fill="#E8282B" stroke="#B52422" stroke-width="0.7"/>
<rect x="557.40" y="281.65" width="11.20" height="11.90" rx="3.85" fill="#E8282B" stroke="#B52422" stroke-width="0.7"/>
<rect x="576.50" y="281.65" width="11.20" height="11.90" rx="3.85" fill="#E8282B" stroke="#B52422" stroke-width="0.7"/>
<rect x="594.00" y="281.65" width="11.20" height="11.90" rx="3.85" fill="#E8282B" stroke="#B52422" stroke-width="0.7"/>
<rect x="612.30" y="281.65" width="11.20" height="11.90" rx="3.85" fill="#E8282B" stroke="#B52422" stroke-width="0.7"/>
<rect x="629.90" y="281.65" width="11.20" height="11.90" rx="3.85" fill="#E8282B" stroke="#B52422" stroke-width="0.7"/>
<rect x="128.75" y="299.00" width="11.9" height="12.6" rx="4.2" fill="#000000"/>
<rect x="146.85" y="299.00" width="11.9" height="12.6" rx="4.2" fill="#000000"/>
<rect x="163.15" y="299.00" width="11.9" height="12.6" rx="4.2" fill="#000000"/>
<rect x="181.05" y="299.00" width="11.9" height="12.6" rx="4.2" fill="#000000"/>
<rect x="198.65" y="299.00" width="11.9" height="12.6" rx="4.2" fill="#000000"/>
<rect x="217.25" y="299.00" width="11.9" height="12.6" rx="4.2" fill="#000000"/>
<rect x="234.35" y="299.00" width="11.9" height="12.6" rx="4.2" fill="#000000"/>
<rect x="253.45" y="299.00" width="11.9" height="12.6" rx="4.2" fill="#000000"/>
<rect x="288.15" y="299.00" width="11.9" height="12.6" rx="4.2" fill="#000000"/>
<rect x="306.05" y="299.00" width="11.9" height="12.6" rx="4.2" fill="#000000"/>
<rect x="324.05" y="299.00" width="11.9" height="12.6" rx="4.2" fill="#000000"/>
<rect x="342.45" y="299.00" width="11.9" height="12.6" rx="4.2" fill="#000000"/>
<rect x="359.15" y="299.00" width="11.9" height="12.6" rx="4.2" fill="#000000"/>
<rect x="377.15" y="299.00" width="11.9" height="12.6" rx="4.2" fill="#000000"/>
<rect x="395.10" y="299.35" width="11.20" height="11.90" rx="3.85" fill="#E8282B" stroke="#B52422" stroke-width="0.7"/>
<rect x="413.60" y="299.35" width="11.20" height="11.90" rx="3.85" fill="#E8282B" stroke="#B52422" stroke-width="0.7"/>
<rect x="431.95" y="299.00" width="11.9" height="12.6" rx="4.2" fill="#000000"/>
<rect x="449.85" y="299.00" width="11.9" height="12.6" rx="4.2" fill="#000000"/>
<rect x="468.60" y="299.35" width="11.20" height="11.90" rx="3.85" fill="#E8282B" stroke="#B52422" stroke-width="0.7"/>
<rect x="486.00" y="299.35" width="11.20" height="11.90" rx="3.85" fill="#E8282B" stroke="#B52422" stroke-width="0.7"/>
<rect x="505.10" y="299.35" width="11.20" height="11.90" rx="3.85" fill="#E8282B" stroke="#B52422" stroke-width="0.7"/>
<rect x="522.50" y="299.35" width="11.20" height="11.90" rx="3.85" fill="#E8282B" stroke="#B52422" stroke-width="0.7"/>
<rect x="539.30" y="299.35" width="11.20" height="11.90" rx="3.85" fill="#E8282B" stroke="#B52422" stroke-width="0.7"/>
<rect x="557.40" y="299.35" width="11.20" height="11.90" rx="3.85" fill="#E8282B" stroke="#B52422" stroke-width="0.7"/>
<rect x="576.50" y="299.35" width="11.20" height="11.90" rx="3.85" fill="#E8282B" stroke="#B52422" stroke-width="0.7"/>
<rect x="594.00" y="299.35" width="11.20" height="11.90" rx="3.85" fill="#E8282B" stroke="#B52422" stroke-width="0.7"/>
<rect x="612.30" y="299.35" width="11.20" height="11.90" rx="3.85" fill="#E8282B" stroke="#B52422" stroke-width="0.7"/>
<rect x="629.90" y="299.35" width="11.20" height="11.90" rx="3.85" fill="#E8282B" stroke="#B52422" stroke-width="0.7"/>
<rect x="128.75" y="317.30" width="11.9" height="12.6" rx="4.2" fill="#000000"/>
<rect x="146.85" y="317.30" width="11.9" height="12.6" rx="4.2" fill="#000000"/>
<rect x="163.15" y="317.30" width="11.9" height="12.6" rx="4.2" fill="#000000"/>
<rect x="181.05" y="317.30" width="11.9" height="12.6" rx="4.2" fill="#000000"/>
<rect x="198.65" y="317.30" width="11.9" height="12.6" rx="4.2" fill="#000000"/>
<rect x="217.25" y="317.30" width="11.9" height="12.6" rx="4.2" fill="#000000"/>
<rect x="234.70" y="317.65" width="11.20" height="11.90" rx="3.85" fill="#E8282B" stroke="#B52422" stroke-width="0.7"/>
<rect x="253.45" y="317.30" width="11.9" height="12.6" rx="4.2" fill="#000000"/>
<rect x="269.85" y="317.30" width="11.9" height="12.6" rx="4.2" fill="#000000"/>
<rect x="306.05" y="317.30" width="11.9" height="12.6" rx="4.2" fill="#000000"/>
<rect x="324.05" y="317.30" width="11.9" height="12.6" rx="4.2" fill="#000000"/>
<rect x="342.45" y="317.30" width="11.9" height="12.6" rx="4.2" fill="#000000"/>
<rect x="359.15" y="317.30" width="11.9" height="12.6" rx="4.2" fill="#000000"/>
<rect x="377.15" y="317.30" width="11.9" height="12.6" rx="4.2" fill="#000000"/>
<rect x="395.10" y="317.65" width="11.20" height="11.90" rx="3.85" fill="#E8282B" stroke="#B52422" stroke-width="0.7"/>
<rect x="413.60" y="317.65" width="11.20" height="11.90" rx="3.85" fill="#E8282B" stroke="#B52422" stroke-width="0.7"/>
<rect x="431.95" y="317.30" width="11.9" height="12.6" rx="4.2" fill="#000000"/>
<rect x="449.85" y="317.30" width="11.9" height="12.6" rx="4.2" fill="#000000"/>
<rect x="468.25" y="317.30" width="11.9" height="12.6" rx="4.2" fill="#000000"/>
<rect x="485.65" y="317.30" width="11.9" height="12.6" rx="4.2" fill="#000000"/>
<rect x="505.10" y="317.65" width="11.20" height="11.90" rx="3.85" fill="#E8282B" stroke="#B52422" stroke-width="0.7"/>
<rect x="522.15" y="317.30" width="11.9" height="12.6" rx="4.2" fill="#000000"/>
<rect x="539.30" y="317.65" width="11.20" height="11.90" rx="3.85" fill="#E8282B" stroke="#B52422" stroke-width="0.7"/>
<rect x="557.40" y="317.65" width="11.20" height="11.90" rx="3.85" fill="#E8282B" stroke="#B52422" stroke-width="0.7"/>
<rect x="576.50" y="317.65" width="11.20" height="11.90" rx="3.85" fill="#E8282B" stroke="#B52422" stroke-width="0.7"/>
<rect x="594.00" y="317.65" width="11.20" height="11.90" rx="3.85" fill="#E8282B" stroke="#B52422" stroke-width="0.7"/>
<rect x="612.30" y="317.65" width="11.20" height="11.90" rx="3.85" fill="#E8282B" stroke="#B52422" stroke-width="0.7"/>
<rect x="629.90" y="317.65" width="11.20" height="11.90" rx="3.85" fill="#E8282B" stroke="#B52422" stroke-width="0.7"/>
<rect x="128.75" y="335.20" width="11.9" height="12.6" rx="4.2" fill="#000000"/>
<rect x="146.85" y="335.20" width="11.9" height="12.6" rx="4.2" fill="#000000"/>
<rect x="163.15" y="335.20" width="11.9" height="12.6" rx="4.2" fill="#000000"/>
<rect x="181.05" y="335.20" width="11.9" height="12.6" rx="4.2" fill="#000000"/>
<rect x="198.65" y="335.20" width="11.9" height="12.6" rx="4.2" fill="#000000"/>
<rect x="217.25" y="335.20" width="11.9" height="12.6" rx="4.2" fill="#000000"/>
<rect x="234.35" y="335.20" width="11.9" height="12.6" rx="4.2" fill="#000000"/>
<rect x="253.45" y="335.20" width="11.9" height="12.6" rx="4.2" fill="#000000"/>
<rect x="269.85" y="335.20" width="11.9" height="12.6" rx="4.2" fill="#000000"/>
<rect x="288.15" y="335.20" width="11.9" height="12.6" rx="4.2" fill="#000000"/>
<rect x="324.05" y="335.20" width="11.9" height="12.6" rx="4.2" fill="#000000"/>
<rect x="342.45" y="335.20" width="11.9" height="12.6" rx="4.2" fill="#000000"/>
<rect x="359.15" y="335.20" width="11.9" height="12.6" rx="4.2" fill="#000000"/>
<rect x="377.15" y="335.20" width="11.9" height="12.6" rx="4.2" fill="#000000"/>
<rect x="395.10" y="335.55" width="11.20" height="11.90" rx="3.85" fill="#E8282B" stroke="#B52422" stroke-width="0.7"/>
<rect x="413.60" y="335.55" width="11.20" height="11.90" rx="3.85" fill="#E8282B" stroke="#B52422" stroke-width="0.7"/>
<rect x="431.95" y="335.20" width="11.9" height="12.6" rx="4.2" fill="#000000"/>
<rect x="449.85" y="335.20" width="11.9" height="12.6" rx="4.2" fill="#000000"/>
<rect x="468.25" y="335.20" width="11.9" height="12.6" rx="4.2" fill="#000000"/>
<rect x="485.65" y="335.20" width="11.9" height="12.6" rx="4.2" fill="#000000"/>
<rect x="505.10" y="335.55" width="11.20" height="11.90" rx="3.85" fill="#E8282B" stroke="#B52422" stroke-width="0.7"/>
<rect x="522.15" y="335.20" width="11.9" height="12.6" rx="4.2" fill="#000000"/>
<rect x="539.30" y="335.55" width="11.20" height="11.90" rx="3.85" fill="#E8282B" stroke="#B52422" stroke-width="0.7"/>
<rect x="557.40" y="335.55" width="11.20" height="11.90" rx="3.85" fill="#E8282B" stroke="#B52422" stroke-width="0.7"/>
<rect x="576.50" y="335.55" width="11.20" height="11.90" rx="3.85" fill="#E8282B" stroke="#B52422" stroke-width="0.7"/>
<rect x="594.00" y="335.55" width="11.20" height="11.90" rx="3.85" fill="#E8282B" stroke="#B52422" stroke-width="0.7"/>
<rect x="612.30" y="335.55" width="11.20" height="11.90" rx="3.85" fill="#E8282B" stroke="#B52422" stroke-width="0.7"/>
<rect x="629.90" y="335.55" width="11.20" height="11.90" rx="3.85" fill="#E8282B" stroke="#B52422" stroke-width="0.7"/>
<rect x="128.75" y="353.70" width="11.9" height="12.6" rx="4.2" fill="#000000"/>
<rect x="146.85" y="353.70" width="11.9" height="12.6" rx="4.2" fill="#000000"/>
<rect x="163.15" y="353.70" width="11.9" height="12.6" rx="4.2" fill="#000000"/>
<rect x="181.05" y="353.70" width="11.9" height="12.6" rx="4.2" fill="#000000"/>
<rect x="198.65" y="353.70" width="11.9" height="12.6" rx="4.2" fill="#000000"/>
<rect x="217.25" y="353.70" width="11.9" height="12.6" rx="4.2" fill="#000000"/>
<rect x="234.35" y="353.70" width="11.9" height="12.6" rx="4.2" fill="#000000"/>
<rect x="253.45" y="353.70" width="11.9" height="12.6" rx="4.2" fill="#000000"/>
<rect x="269.85" y="353.70" width="11.9" height="12.6" rx="4.2" fill="#000000"/>
<rect x="288.15" y="353.70" width="11.9" height="12.6" rx="4.2" fill="#000000"/>
<rect x="306.05" y="353.70" width="11.9" height="12.6" rx="4.2" fill="#000000"/>
<rect x="342.45" y="353.70" width="11.9" height="12.6" rx="4.2" fill="#000000"/>
<rect x="359.15" y="353.70" width="11.9" height="12.6" rx="4.2" fill="#000000"/>
<rect x="377.15" y="353.70" width="11.9" height="12.6" rx="4.2" fill="#000000"/>
<rect x="395.10" y="354.05" width="11.20" height="11.90" rx="3.85" fill="#E8282B" stroke="#B52422" stroke-width="0.7"/>
<rect x="413.60" y="354.05" width="11.20" height="11.90" rx="3.85" fill="#E8282B" stroke="#B52422" stroke-width="0.7"/>
<rect x="431.95" y="353.70" width="11.9" height="12.6" rx="4.2" fill="#000000"/>
<rect x="449.85" y="353.70" width="11.9" height="12.6" rx="4.2" fill="#000000"/>
<rect x="468.25" y="353.70" width="11.9" height="12.6" rx="4.2" fill="#000000"/>
<rect x="485.65" y="353.70" width="11.9" height="12.6" rx="4.2" fill="#000000"/>
<rect x="505.10" y="354.05" width="11.20" height="11.90" rx="3.85" fill="#E8282B" stroke="#B52422" stroke-width="0.7"/>
<rect x="522.15" y="353.70" width="11.9" height="12.6" rx="4.2" fill="#000000"/>
<rect x="539.30" y="354.05" width="11.20" height="11.90" rx="3.85" fill="#E8282B" stroke="#B52422" stroke-width="0.7"/>
<rect x="557.40" y="354.05" width="11.20" height="11.90" rx="3.85" fill="#E8282B" stroke="#B52422" stroke-width="0.7"/>
<rect x="576.50" y="354.05" width="11.20" height="11.90" rx="3.85" fill="#E8282B" stroke="#B52422" stroke-width="0.7"/>
<rect x="594.00" y="354.05" width="11.20" height="11.90" rx="3.85" fill="#E8282B" stroke="#B52422" stroke-width="0.7"/>
<rect x="612.30" y="354.05" width="11.20" height="11.90" rx="3.85" fill="#E8282B" stroke="#B52422" stroke-width="0.7"/>
<rect x="629.90" y="354.05" width="11.20" height="11.90" rx="3.85" fill="#E8282B" stroke="#B52422" stroke-width="0.7"/>
<rect x="128.75" y="372.00" width="11.9" height="12.6" rx="4.2" fill="#000000"/>
<rect x="146.85" y="372.00" width="11.9" height="12.6" rx="4.2" fill="#000000"/>
<rect x="163.15" y="372.00" width="11.9" height="12.6" rx="4.2" fill="#000000"/>
<rect x="181.05" y="372.00" width="11.9" height="12.6" rx="4.2" fill="#000000"/>
<rect x="198.65" y="372.00" width="11.9" height="12.6" rx="4.2" fill="#000000"/>
<rect x="217.25" y="372.00" width="11.9" height="12.6" rx="4.2" fill="#000000"/>
<rect x="234.35" y="372.00" width="11.9" height="12.6" rx="4.2" fill="#000000"/>
<rect x="253.45" y="372.00" width="11.9" height="12.6" rx="4.2" fill="#000000"/>
<rect x="269.85" y="372.00" width="11.9" height="12.6" rx="4.2" fill="#000000"/>
<rect x="288.15" y="372.00" width="11.9" height="12.6" rx="4.2" fill="#000000"/>
<rect x="306.05" y="372.00" width="11.9" height="12.6" rx="4.2" fill="#000000"/>
<rect x="324.05" y="372.00" width="11.9" height="12.6" rx="4.2" fill="#000000"/>
<rect x="359.15" y="372.00" width="11.9" height="12.6" rx="4.2" fill="#000000"/>
<rect x="377.15" y="372.00" width="11.9" height="12.6" rx="4.2" fill="#000000"/>
<rect x="395.10" y="372.35" width="11.20" height="11.90" rx="3.85" fill="#E8282B" stroke="#B52422" stroke-width="0.7"/>
<rect x="413.25" y="372.00" width="11.9" height="12.6" rx="4.2" fill="#000000"/>
<rect x="431.95" y="372.00" width="11.9" height="12.6" rx="4.2" fill="#000000"/>
<rect x="449.85" y="372.00" width="11.9" height="12.6" rx="4.2" fill="#000000"/>
<rect x="468.25" y="372.00" width="11.9" height="12.6" rx="4.2" fill="#000000"/>
<rect x="485.65" y="372.00" width="11.9" height="12.6" rx="4.2" fill="#000000"/>
<rect x="505.10" y="372.35" width="11.20" height="11.90" rx="3.85" fill="#E8282B" stroke="#B52422" stroke-width="0.7"/>
<rect x="522.15" y="372.00" width="11.9" height="12.6" rx="4.2" fill="#000000"/>
<rect x="539.30" y="372.35" width="11.20" height="11.90" rx="3.85" fill="#E8282B" stroke="#B52422" stroke-width="0.7"/>
<rect x="557.40" y="372.35" width="11.20" height="11.90" rx="3.85" fill="#E8282B" stroke="#B52422" stroke-width="0.7"/>
<rect x="576.50" y="372.35" width="11.20" height="11.90" rx="3.85" fill="#E8282B" stroke="#B52422" stroke-width="0.7"/>
<rect x="594.00" y="372.35" width="11.20" height="11.90" rx="3.85" fill="#E8282B" stroke="#B52422" stroke-width="0.7"/>
<rect x="612.30" y="372.35" width="11.20" height="11.90" rx="3.85" fill="#E8282B" stroke="#B52422" stroke-width="0.7"/>
<rect x="629.90" y="372.35" width="11.20" height="11.90" rx="3.85" fill="#E8282B" stroke="#B52422" stroke-width="0.7"/>
<rect x="128.75" y="389.40" width="11.9" height="12.6" rx="4.2" fill="#000000"/>
<rect x="146.85" y="389.40" width="11.9" height="12.6" rx="4.2" fill="#000000"/>
<rect x="163.15" y="389.40" width="11.9" height="12.6" rx="4.2" fill="#000000"/>
<rect x="181.05" y="389.40" width="11.9" height="12.6" rx="4.2" fill="#000000"/>
<rect x="198.65" y="389.40" width="11.9" height="12.6" rx="4.2" fill="#000000"/>
<rect x="217.25" y="389.40" width="11.9" height="12.6" rx="4.2" fill="#000000"/>
<rect x="234.70" y="389.75" width="11.20" height="11.90" rx="3.85" fill="#E8282B" stroke="#B52422" stroke-width="0.7"/>
<rect x="253.45" y="389.40" width="11.9" height="12.6" rx="4.2" fill="#000000"/>
<rect x="269.85" y="389.40" width="11.9" height="12.6" rx="4.2" fill="#000000"/>
<rect x="288.15" y="389.40" width="11.9" height="12.6" rx="4.2" fill="#000000"/>
<rect x="306.05" y="389.40" width="11.9" height="12.6" rx="4.2" fill="#000000"/>
<rect x="324.05" y="389.40" width="11.9" height="12.6" rx="4.2" fill="#000000"/>
<rect x="342.45" y="389.40" width="11.9" height="12.6" rx="4.2" fill="#000000"/>
<rect x="377.15" y="389.40" width="11.9" height="12.6" rx="4.2" fill="#000000"/>
<rect x="395.10" y="389.75" width="11.20" height="11.90" rx="3.85" fill="#E8282B" stroke="#B52422" stroke-width="0.7"/>
<rect x="413.25" y="389.40" width="11.9" height="12.6" rx="4.2" fill="#000000"/>
<rect x="431.95" y="389.40" width="11.9" height="12.6" rx="4.2" fill="#000000"/>
<rect x="449.85" y="389.40" width="11.9" height="12.6" rx="4.2" fill="#000000"/>
<rect x="468.60" y="389.75" width="11.20" height="11.90" rx="3.85" fill="#E8282B" stroke="#B52422" stroke-width="0.7"/>
<rect x="486.00" y="389.75" width="11.20" height="11.90" rx="3.85" fill="#E8282B" stroke="#B52422" stroke-width="0.7"/>
<rect x="505.10" y="389.75" width="11.20" height="11.90" rx="3.85" fill="#E8282B" stroke="#B52422" stroke-width="0.7"/>
<rect x="522.50" y="389.75" width="11.20" height="11.90" rx="3.85" fill="#E8282B" stroke="#B52422" stroke-width="0.7"/>
<rect x="539.30" y="389.75" width="11.20" height="11.90" rx="3.85" fill="#E8282B" stroke="#B52422" stroke-width="0.7"/>
<rect x="557.40" y="389.75" width="11.20" height="11.90" rx="3.85" fill="#E8282B" stroke="#B52422" stroke-width="0.7"/>
<rect x="576.15" y="389.40" width="11.9" height="12.6" rx="4.2" fill="#000000"/>
<rect x="594.00" y="389.75" width="11.20" height="11.90" rx="3.85" fill="#E8282B" stroke="#B52422" stroke-width="0.7"/>
<rect x="612.30" y="389.75" width="11.20" height="11.90" rx="3.85" fill="#E8282B" stroke="#B52422" stroke-width="0.7"/>
<rect x="629.90" y="389.75" width="11.20" height="11.90" rx="3.85" fill="#E8282B" stroke="#B52422" stroke-width="0.7"/>
<rect x="128.75" y="406.40" width="11.9" height="12.6" rx="4.2" fill="#000000"/>
<rect x="146.85" y="406.40" width="11.9" height="12.6" rx="4.2" fill="#000000"/>
<rect x="163.15" y="406.40" width="11.9" height="12.6" rx="4.2" fill="#000000"/>
<rect x="181.05" y="406.40" width="11.9" height="12.6" rx="4.2" fill="#000000"/>
<rect x="198.65" y="406.40" width="11.9" height="12.6" rx="4.2" fill="#000000"/>
<rect x="217.25" y="406.40" width="11.9" height="12.6" rx="4.2" fill="#000000"/>
<rect x="234.70" y="406.75" width="11.20" height="11.90" rx="3.85" fill="#E8282B" stroke="#B52422" stroke-width="0.7"/>
<rect x="253.45" y="406.40" width="11.9" height="12.6" rx="4.2" fill="#000000"/>
<rect x="269.85" y="406.40" width="11.9" height="12.6" rx="4.2" fill="#000000"/>
<rect x="288.15" y="406.40" width="11.9" height="12.6" rx="4.2" fill="#000000"/>
<rect x="306.05" y="406.40" width="11.9" height="12.6" rx="4.2" fill="#000000"/>
<rect x="324.05" y="406.40" width="11.9" height="12.6" rx="4.2" fill="#000000"/>
<rect x="342.45" y="406.40" width="11.9" height="12.6" rx="4.2" fill="#000000"/>
<rect x="359.15" y="406.40" width="11.9" height="12.6" rx="4.2" fill="#000000"/>
<rect x="395.10" y="406.75" width="11.20" height="11.90" rx="3.85" fill="#E8282B" stroke="#B52422" stroke-width="0.7"/>
<rect x="413.25" y="406.40" width="11.9" height="12.6" rx="4.2" fill="#000000"/>
<rect x="431.95" y="406.40" width="11.9" height="12.6" rx="4.2" fill="#000000"/>
<rect x="449.85" y="406.40" width="11.9" height="12.6" rx="4.2" fill="#000000"/>
<rect x="468.60" y="406.75" width="11.20" height="11.90" rx="3.85" fill="#E8282B" stroke="#B52422" stroke-width="0.7"/>
<rect x="486.00" y="406.75" width="11.20" height="11.90" rx="3.85" fill="#E8282B" stroke="#B52422" stroke-width="0.7"/>
<rect x="505.10" y="406.75" width="11.20" height="11.90" rx="3.85" fill="#E8282B" stroke="#B52422" stroke-width="0.7"/>
<rect x="522.50" y="406.75" width="11.20" height="11.90" rx="3.85" fill="#E8282B" stroke="#B52422" stroke-width="0.7"/>
<rect x="539.30" y="406.75" width="11.20" height="11.90" rx="3.85" fill="#E8282B" stroke="#B52422" stroke-width="0.7"/>
<rect x="557.40" y="406.75" width="11.20" height="11.90" rx="3.85" fill="#E8282B" stroke="#B52422" stroke-width="0.7"/>
<rect x="576.15" y="406.40" width="11.9" height="12.6" rx="4.2" fill="#000000"/>
<rect x="594.00" y="406.75" width="11.20" height="11.90" rx="3.85" fill="#E8282B" stroke="#B52422" stroke-width="0.7"/>
<rect x="612.30" y="406.75" width="11.20" height="11.90" rx="3.85" fill="#E8282B" stroke="#B52422" stroke-width="0.7"/>
<rect x="629.90" y="406.75" width="11.20" height="11.90" rx="3.85" fill="#E8282B" stroke="#B52422" stroke-width="0.7"/>
<rect x="129.10" y="425.95" width="11.20" height="11.90" rx="3.85" fill="#E8282B" stroke="#B52422" stroke-width="0.7"/>
<rect x="147.20" y="425.95" width="11.20" height="11.90" rx="3.85" fill="#E8282B" stroke="#B52422" stroke-width="0.7"/>
<rect x="163.50" y="425.95" width="11.20" height="11.90" rx="3.85" fill="#E8282B" stroke="#B52422" stroke-width="0.7"/>
<rect x="181.40" y="425.95" width="11.20" height="11.90" rx="3.85" fill="#E8282B" stroke="#B52422" stroke-width="0.7"/>
<rect x="199.00" y="425.95" width="11.20" height="11.90" rx="3.85" fill="#E8282B" stroke="#B52422" stroke-width="0.7"/>
<rect x="217.60" y="425.95" width="11.20" height="11.90" rx="3.85" fill="#E8282B" stroke="#B52422" stroke-width="0.7"/>
<rect x="234.70" y="425.95" width="11.20" height="11.90" rx="3.85" fill="#E8282B" stroke="#B52422" stroke-width="0.7"/>
<rect x="253.80" y="425.95" width="11.20" height="11.90" rx="3.85" fill="#E8282B" stroke="#B52422" stroke-width="0.7"/>
<rect x="270.20" y="425.95" width="11.20" height="11.90" rx="3.85" fill="#E8282B" stroke="#B52422" stroke-width="0.7"/>
<rect x="288.50" y="425.95" width="11.20" height="11.90" rx="3.85" fill="#E8282B" stroke="#B52422" stroke-width="0.7"/>
<rect x="306.40" y="425.95" width="11.20" height="11.90" rx="3.85" fill="#E8282B" stroke="#B52422" stroke-width="0.7"/>
<rect x="324.40" y="425.95" width="11.20" height="11.90" rx="3.85" fill="#E8282B" stroke="#B52422" stroke-width="0.7"/>
<rect x="342.80" y="425.95" width="11.20" height="11.90" rx="3.85" fill="#E8282B" stroke="#B52422" stroke-width="0.7"/>
<rect x="359.50" y="425.95" width="11.20" height="11.90" rx="3.85" fill="#E8282B" stroke="#B52422" stroke-width="0.7"/>
<rect x="377.50" y="425.95" width="11.20" height="11.90" rx="3.85" fill="#E8282B" stroke="#B52422" stroke-width="0.7"/>
<rect x="413.25" y="425.60" width="11.9" height="12.6" rx="4.2" fill="#000000"/>
<rect x="431.95" y="425.60" width="11.9" height="12.6" rx="4.2" fill="#000000"/>
<rect x="449.85" y="425.60" width="11.9" height="12.6" rx="4.2" fill="#000000"/>
<rect x="468.60" y="425.95" width="11.20" height="11.90" rx="3.85" fill="#E8282B" stroke="#B52422" stroke-width="0.7"/>
<rect x="486.00" y="425.95" width="11.20" height="11.90" rx="3.85" fill="#E8282B" stroke="#B52422" stroke-width="0.7"/>
<rect x="505.10" y="425.95" width="11.20" height="11.90" rx="3.85" fill="#E8282B" stroke="#B52422" stroke-width="0.7"/>
<rect x="522.50" y="425.95" width="11.20" height="11.90" rx="3.85" fill="#E8282B" stroke="#B52422" stroke-width="0.7"/>
<rect x="539.30" y="425.95" width="11.20" height="11.90" rx="3.85" fill="#E8282B" stroke="#B52422" stroke-width="0.7"/>
<rect x="557.40" y="425.95" width="11.20" height="11.90" rx="3.85" fill="#E8282B" stroke="#B52422" stroke-width="0.7"/>
<rect x="576.50" y="425.95" width="11.20" height="11.90" rx="3.85" fill="#E8282B" stroke="#B52422" stroke-width="0.7"/>
<rect x="594.00" y="425.95" width="11.20" height="11.90" rx="3.85" fill="#E8282B" stroke="#B52422" stroke-width="0.7"/>
<rect x="612.30" y="425.95" width="11.20" height="11.90" rx="3.85" fill="#E8282B" stroke="#B52422" stroke-width="0.7"/>
<rect x="629.90" y="425.95" width="11.20" height="11.90" rx="3.85" fill="#E8282B" stroke="#B52422" stroke-width="0.7"/>
<rect x="129.10" y="442.75" width="11.20" height="11.90" rx="3.85" fill="#E8282B" stroke="#B52422" stroke-width="0.7"/>
<rect x="147.20" y="442.75" width="11.20" height="11.90" rx="3.85" fill="#E8282B" stroke="#B52422" stroke-width="0.7"/>
<rect x="163.50" y="442.75" width="11.20" height="11.90" rx="3.85" fill="#E8282B" stroke="#B52422" stroke-width="0.7"/>
<rect x="181.05" y="442.40" width="11.9" height="12.6" rx="4.2" fill="#000000"/>
<rect x="199.00" y="442.75" width="11.20" height="11.90" rx="3.85" fill="#E8282B" stroke="#B52422" stroke-width="0.7"/>
<rect x="217.60" y="442.75" width="11.20" height="11.90" rx="3.85" fill="#E8282B" stroke="#B52422" stroke-width="0.7"/>
<rect x="234.70" y="442.75" width="11.20" height="11.90" rx="3.85" fill="#E8282B" stroke="#B52422" stroke-width="0.7"/>
<rect x="253.80" y="442.75" width="11.20" height="11.90" rx="3.85" fill="#E8282B" stroke="#B52422" stroke-width="0.7"/>
<rect x="270.20" y="442.75" width="11.20" height="11.90" rx="3.85" fill="#E8282B" stroke="#B52422" stroke-width="0.7"/>
<rect x="288.50" y="442.75" width="11.20" height="11.90" rx="3.85" fill="#E8282B" stroke="#B52422" stroke-width="0.7"/>
<rect x="306.40" y="442.75" width="11.20" height="11.90" rx="3.85" fill="#E8282B" stroke="#B52422" stroke-width="0.7"/>
<rect x="324.40" y="442.75" width="11.20" height="11.90" rx="3.85" fill="#E8282B" stroke="#B52422" stroke-width="0.7"/>
<rect x="342.45" y="442.40" width="11.9" height="12.6" rx="4.2" fill="#000000"/>
<rect x="359.15" y="442.40" width="11.9" height="12.6" rx="4.2" fill="#000000"/>
<rect x="377.15" y="442.40" width="11.9" height="12.6" rx="4.2" fill="#000000"/>
<rect x="394.75" y="442.40" width="11.9" height="12.6" rx="4.2" fill="#000000"/>
<rect x="431.95" y="442.40" width="11.9" height="12.6" rx="4.2" fill="#000000"/>
<rect x="449.85" y="442.40" width="11.9" height="12.6" rx="4.2" fill="#000000"/>
<rect x="468.60" y="442.75" width="11.20" height="11.90" rx="3.85" fill="#E8282B" stroke="#B52422" stroke-width="0.7"/>
<rect x="486.00" y="442.75" width="11.20" height="11.90" rx="3.85" fill="#E8282B" stroke="#B52422" stroke-width="0.7"/>
<rect x="505.10" y="442.75" width="11.20" height="11.90" rx="3.85" fill="#E8282B" stroke="#B52422" stroke-width="0.7"/>
<rect x="522.50" y="442.75" width="11.20" height="11.90" rx="3.85" fill="#E8282B" stroke="#B52422" stroke-width="0.7"/>
<rect x="539.30" y="442.75" width="11.20" height="11.90" rx="3.85" fill="#E8282B" stroke="#B52422" stroke-width="0.7"/>
<rect x="557.40" y="442.75" width="11.20" height="11.90" rx="3.85" fill="#E8282B" stroke="#B52422" stroke-width="0.7"/>
<rect x="576.50" y="442.75" width="11.20" height="11.90" rx="3.85" fill="#E8282B" stroke="#B52422" stroke-width="0.7"/>
<rect x="593.65" y="442.40" width="11.9" height="12.6" rx="4.2" fill="#000000"/>
<rect x="611.95" y="442.40" width="11.9" height="12.6" rx="4.2" fill="#000000"/>
<rect x="629.55" y="442.40" width="11.9" height="12.6" rx="4.2" fill="#000000"/>
<rect x="128.75" y="460.20" width="11.9" height="12.6" rx="4.2" fill="#000000"/>
<rect x="146.85" y="460.20" width="11.9" height="12.6" rx="4.2" fill="#000000"/>
<rect x="163.15" y="460.20" width="11.9" height="12.6" rx="4.2" fill="#000000"/>
<rect x="181.05" y="460.20" width="11.9" height="12.6" rx="4.2" fill="#000000"/>
<rect x="198.65" y="460.20" width="11.9" height="12.6" rx="4.2" fill="#000000"/>
<rect x="217.25" y="460.20" width="11.9" height="12.6" rx="4.2" fill="#000000"/>
<rect x="234.35" y="460.20" width="11.9" height="12.6" rx="4.2" fill="#000000"/>
<rect x="253.45" y="460.20" width="11.9" height="12.6" rx="4.2" fill="#000000"/>
<rect x="269.85" y="460.20" width="11.9" height="12.6" rx="4.2" fill="#000000"/>
<rect x="288.15" y="460.20" width="11.9" height="12.6" rx="4.2" fill="#000000"/>
<rect x="306.05" y="460.20" width="11.9" height="12.6" rx="4.2" fill="#000000"/>
<rect x="324.05" y="460.20" width="11.9" height="12.6" rx="4.2" fill="#000000"/>
<rect x="342.45" y="460.20" width="11.9" height="12.6" rx="4.2" fill="#000000"/>
<rect x="359.15" y="460.20" width="11.9" height="12.6" rx="4.2" fill="#000000"/>
<rect x="377.15" y="460.20" width="11.9" height="12.6" rx="4.2" fill="#000000"/>
<rect x="394.75" y="460.20" width="11.9" height="12.6" rx="4.2" fill="#000000"/>
<rect x="413.25" y="460.20" width="11.9" height="12.6" rx="4.2" fill="#000000"/>
<rect x="449.85" y="460.20" width="11.9" height="12.6" rx="4.2" fill="#000000"/>
<rect x="468.25" y="460.20" width="11.9" height="12.6" rx="4.2" fill="#000000"/>
<rect x="485.65" y="460.20" width="11.9" height="12.6" rx="4.2" fill="#000000"/>
<rect x="504.75" y="460.20" width="11.9" height="12.6" rx="4.2" fill="#000000"/>
<rect x="522.15" y="460.20" width="11.9" height="12.6" rx="4.2" fill="#000000"/>
<rect x="538.95" y="460.20" width="11.9" height="12.6" rx="4.2" fill="#000000"/>
<rect x="557.05" y="460.20" width="11.9" height="12.6" rx="4.2" fill="#000000"/>
<rect x="576.15" y="460.20" width="11.9" height="12.6" rx="4.2" fill="#000000"/>
<rect x="593.65" y="460.20" width="11.9" height="12.6" rx="4.2" fill="#000000"/>
<rect x="611.95" y="460.20" width="11.9" height="12.6" rx="4.2" fill="#000000"/>
<rect x="629.55" y="460.20" width="11.9" height="12.6" rx="4.2" fill="#000000"/>
<rect x="128.75" y="477.70" width="11.9" height="12.6" rx="4.2" fill="#000000"/>
<rect x="146.85" y="477.70" width="11.9" height="12.6" rx="4.2" fill="#000000"/>
<rect x="163.15" y="477.70" width="11.9" height="12.6" rx="4.2" fill="#000000"/>
<rect x="181.05" y="477.70" width="11.9" height="12.6" rx="4.2" fill="#000000"/>
<rect x="198.65" y="477.70" width="11.9" height="12.6" rx="4.2" fill="#000000"/>
<rect x="217.25" y="477.70" width="11.9" height="12.6" rx="4.2" fill="#000000"/>
<rect x="234.35" y="477.70" width="11.9" height="12.6" rx="4.2" fill="#000000"/>
<rect x="253.45" y="477.70" width="11.9" height="12.6" rx="4.2" fill="#000000"/>
<rect x="269.85" y="477.70" width="11.9" height="12.6" rx="4.2" fill="#000000"/>
<rect x="288.15" y="477.70" width="11.9" height="12.6" rx="4.2" fill="#000000"/>
<rect x="306.05" y="477.70" width="11.9" height="12.6" rx="4.2" fill="#000000"/>
<rect x="324.05" y="477.70" width="11.9" height="12.6" rx="4.2" fill="#000000"/>
<rect x="342.45" y="477.70" width="11.9" height="12.6" rx="4.2" fill="#000000"/>
<rect x="359.15" y="477.70" width="11.9" height="12.6" rx="4.2" fill="#000000"/>
<rect x="377.15" y="477.70" width="11.9" height="12.6" rx="4.2" fill="#000000"/>
<rect x="394.75" y="477.70" width="11.9" height="12.6" rx="4.2" fill="#000000"/>
<rect x="413.25" y="477.70" width="11.9" height="12.6" rx="4.2" fill="#000000"/>
<rect x="431.95" y="477.70" width="11.9" height="12.6" rx="4.2" fill="#000000"/>
<rect x="468.25" y="477.70" width="11.9" height="12.6" rx="4.2" fill="#000000"/>
<rect x="485.65" y="477.70" width="11.9" height="12.6" rx="4.2" fill="#000000"/>
<rect x="504.75" y="477.70" width="11.9" height="12.6" rx="4.2" fill="#000000"/>
<rect x="522.15" y="477.70" width="11.9" height="12.6" rx="4.2" fill="#000000"/>
<rect x="538.95" y="477.70" width="11.9" height="12.6" rx="4.2" fill="#000000"/>
<rect x="557.05" y="477.70" width="11.9" height="12.6" rx="4.2" fill="#000000"/>
<rect x="576.15" y="477.70" width="11.9" height="12.6" rx="4.2" fill="#000000"/>
<rect x="593.65" y="477.70" width="11.9" height="12.6" rx="4.2" fill="#000000"/>
<rect x="611.95" y="477.70" width="11.9" height="12.6" rx="4.2" fill="#000000"/>
<rect x="629.55" y="477.70" width="11.9" height="12.6" rx="4.2" fill="#000000"/>
<rect x="129.10" y="496.95" width="11.20" height="11.90" rx="3.85" fill="#E8282B" stroke="#B52422" stroke-width="0.7"/>
<rect x="147.20" y="496.95" width="11.20" height="11.90" rx="3.85" fill="#E8282B" stroke="#B52422" stroke-width="0.7"/>
<rect x="163.50" y="496.95" width="11.20" height="11.90" rx="3.85" fill="#E8282B" stroke="#B52422" stroke-width="0.7"/>
<rect x="181.40" y="496.95" width="11.20" height="11.90" rx="3.85" fill="#E8282B" stroke="#B52422" stroke-width="0.7"/>
<rect x="199.00" y="496.95" width="11.20" height="11.90" rx="3.85" fill="#E8282B" stroke="#B52422" stroke-width="0.7"/>
<rect x="217.60" y="496.95" width="11.20" height="11.90" rx="3.85" fill="#E8282B" stroke="#B52422" stroke-width="0.7"/>
<rect x="234.35" y="496.60" width="11.9" height="12.6" rx="4.2" fill="#000000"/>
<rect x="253.80" y="496.95" width="11.20" height="11.90" rx="3.85" fill="#E8282B" stroke="#B52422" stroke-width="0.7"/>
<rect x="270.20" y="496.95" width="11.20" height="11.90" rx="3.85" fill="#E8282B" stroke="#B52422" stroke-width="0.7"/>
<rect x="288.50" y="496.95" width="11.20" height="11.90" rx="3.85" fill="#E8282B" stroke="#B52422" stroke-width="0.7"/>
<rect x="306.40" y="496.95" width="11.20" height="11.90" rx="3.85" fill="#E8282B" stroke="#B52422" stroke-width="0.7"/>
<rect x="324.40" y="496.95" width="11.20" height="11.90" rx="3.85" fill="#E8282B" stroke="#B52422" stroke-width="0.7"/>
<rect x="342.80" y="496.95" width="11.20" height="11.90" rx="3.85" fill="#E8282B" stroke="#B52422" stroke-width="0.7"/>
<rect x="359.50" y="496.95" width="11.20" height="11.90" rx="3.85" fill="#E8282B" stroke="#B52422" stroke-width="0.7"/>
<rect x="377.50" y="496.95" width="11.20" height="11.90" rx="3.85" fill="#E8282B" stroke="#B52422" stroke-width="0.7"/>
<rect x="395.10" y="496.95" width="11.20" height="11.90" rx="3.85" fill="#E8282B" stroke="#B52422" stroke-width="0.7"/>
<rect x="413.60" y="496.95" width="11.20" height="11.90" rx="3.85" fill="#E8282B" stroke="#B52422" stroke-width="0.7"/>
<rect x="431.95" y="496.60" width="11.9" height="12.6" rx="4.2" fill="#000000"/>
<rect x="449.85" y="496.60" width="11.9" height="12.6" rx="4.2" fill="#000000"/>
<rect x="485.65" y="496.60" width="11.9" height="12.6" rx="4.2" fill="#000000"/>
<rect x="504.75" y="496.60" width="11.9" height="12.6" rx="4.2" fill="#000000"/>
<rect x="522.15" y="496.60" width="11.9" height="12.6" rx="4.2" fill="#000000"/>
<rect x="538.95" y="496.60" width="11.9" height="12.6" rx="4.2" fill="#000000"/>
<rect x="557.05" y="496.60" width="11.9" height="12.6" rx="4.2" fill="#000000"/>
<rect x="576.15" y="496.60" width="11.9" height="12.6" rx="4.2" fill="#000000"/>
<rect x="594.00" y="496.95" width="11.20" height="11.90" rx="3.85" fill="#E8282B" stroke="#B52422" stroke-width="0.7"/>
<rect x="612.30" y="496.95" width="11.20" height="11.90" rx="3.85" fill="#E8282B" stroke="#B52422" stroke-width="0.7"/>
<rect x="629.90" y="496.95" width="11.20" height="11.90" rx="3.85" fill="#E8282B" stroke="#B52422" stroke-width="0.7"/>
<rect x="129.10" y="515.55" width="11.20" height="11.90" rx="3.85" fill="#E8282B" stroke="#B52422" stroke-width="0.7"/>
<rect x="147.20" y="515.55" width="11.20" height="11.90" rx="3.85" fill="#E8282B" stroke="#B52422" stroke-width="0.7"/>
<rect x="163.50" y="515.55" width="11.20" height="11.90" rx="3.85" fill="#E8282B" stroke="#B52422" stroke-width="0.7"/>
<rect x="181.40" y="515.55" width="11.20" height="11.90" rx="3.85" fill="#E8282B" stroke="#B52422" stroke-width="0.7"/>
<rect x="199.00" y="515.55" width="11.20" height="11.90" rx="3.85" fill="#E8282B" stroke="#B52422" stroke-width="0.7"/>
<rect x="217.60" y="515.55" width="11.20" height="11.90" rx="3.85" fill="#E8282B" stroke="#B52422" stroke-width="0.7"/>
<rect x="234.35" y="515.20" width="11.9" height="12.6" rx="4.2" fill="#000000"/>
<rect x="253.80" y="515.55" width="11.20" height="11.90" rx="3.85" fill="#E8282B" stroke="#B52422" stroke-width="0.7"/>
<rect x="270.20" y="515.55" width="11.20" height="11.90" rx="3.85" fill="#E8282B" stroke="#B52422" stroke-width="0.7"/>
<rect x="288.50" y="515.55" width="11.20" height="11.90" rx="3.85" fill="#E8282B" stroke="#B52422" stroke-width="0.7"/>
<rect x="306.40" y="515.55" width="11.20" height="11.90" rx="3.85" fill="#E8282B" stroke="#B52422" stroke-width="0.7"/>
<rect x="324.40" y="515.55" width="11.20" height="11.90" rx="3.85" fill="#E8282B" stroke="#B52422" stroke-width="0.7"/>
<rect x="342.80" y="515.55" width="11.20" height="11.90" rx="3.85" fill="#E8282B" stroke="#B52422" stroke-width="0.7"/>
<rect x="359.50" y="515.55" width="11.20" height="11.90" rx="3.85" fill="#E8282B" stroke="#B52422" stroke-width="0.7"/>
<rect x="377.50" y="515.55" width="11.20" height="11.90" rx="3.85" fill="#E8282B" stroke="#B52422" stroke-width="0.7"/>
<rect x="395.10" y="515.55" width="11.20" height="11.90" rx="3.85" fill="#E8282B" stroke="#B52422" stroke-width="0.7"/>
<rect x="413.60" y="515.55" width="11.20" height="11.90" rx="3.85" fill="#E8282B" stroke="#B52422" stroke-width="0.7"/>
<rect x="431.95" y="515.20" width="11.9" height="12.6" rx="4.2" fill="#000000"/>
<rect x="449.85" y="515.20" width="11.9" height="12.6" rx="4.2" fill="#000000"/>
<rect x="468.25" y="515.20" width="11.9" height="12.6" rx="4.2" fill="#000000"/>
<rect x="504.75" y="515.20" width="11.9" height="12.6" rx="4.2" fill="#000000"/>
<rect x="522.15" y="515.20" width="11.9" height="12.6" rx="4.2" fill="#000000"/>
<rect x="538.95" y="515.20" width="11.9" height="12.6" rx="4.2" fill="#000000"/>
<rect x="557.05" y="515.20" width="11.9" height="12.6" rx="4.2" fill="#000000"/>
<rect x="576.15" y="515.20" width="11.9" height="12.6" rx="4.2" fill="#000000"/>
<rect x="594.00" y="515.55" width="11.20" height="11.90" rx="3.85" fill="#E8282B" stroke="#B52422" stroke-width="0.7"/>
<rect x="612.30" y="515.55" width="11.20" height="11.90" rx="3.85" fill="#E8282B" stroke="#B52422" stroke-width="0.7"/>
<rect x="629.90" y="515.55" width="11.20" height="11.90" rx="3.85" fill="#E8282B" stroke="#B52422" stroke-width="0.7"/>
<rect x="129.10" y="533.25" width="11.20" height="11.90" rx="3.85" fill="#E8282B" stroke="#B52422" stroke-width="0.7"/>
<rect x="147.20" y="533.25" width="11.20" height="11.90" rx="3.85" fill="#E8282B" stroke="#B52422" stroke-width="0.7"/>
<rect x="163.50" y="533.25" width="11.20" height="11.90" rx="3.85" fill="#E8282B" stroke="#B52422" stroke-width="0.7"/>
<rect x="181.40" y="533.25" width="11.20" height="11.90" rx="3.85" fill="#E8282B" stroke="#B52422" stroke-width="0.7"/>
<rect x="199.00" y="533.25" width="11.20" height="11.90" rx="3.85" fill="#E8282B" stroke="#B52422" stroke-width="0.7"/>
<rect x="217.60" y="533.25" width="11.20" height="11.90" rx="3.85" fill="#E8282B" stroke="#B52422" stroke-width="0.7"/>
<rect x="234.35" y="532.90" width="11.9" height="12.6" rx="4.2" fill="#000000"/>
<rect x="253.80" y="533.25" width="11.20" height="11.90" rx="3.85" fill="#E8282B" stroke="#B52422" stroke-width="0.7"/>
<rect x="270.20" y="533.25" width="11.20" height="11.90" rx="3.85" fill="#E8282B" stroke="#B52422" stroke-width="0.7"/>
<rect x="288.50" y="533.25" width="11.20" height="11.90" rx="3.85" fill="#E8282B" stroke="#B52422" stroke-width="0.7"/>
<rect x="306.40" y="533.25" width="11.20" height="11.90" rx="3.85" fill="#E8282B" stroke="#B52422" stroke-width="0.7"/>
<rect x="324.40" y="533.25" width="11.20" height="11.90" rx="3.85" fill="#E8282B" stroke="#B52422" stroke-width="0.7"/>
<rect x="342.80" y="533.25" width="11.20" height="11.90" rx="3.85" fill="#E8282B" stroke="#B52422" stroke-width="0.7"/>
<rect x="359.50" y="533.25" width="11.20" height="11.90" rx="3.85" fill="#E8282B" stroke="#B52422" stroke-width="0.7"/>
<rect x="377.50" y="533.25" width="11.20" height="11.90" rx="3.85" fill="#E8282B" stroke="#B52422" stroke-width="0.7"/>
<rect x="395.10" y="533.25" width="11.20" height="11.90" rx="3.85" fill="#E8282B" stroke="#B52422" stroke-width="0.7"/>
<rect x="413.60" y="533.25" width="11.20" height="11.90" rx="3.85" fill="#E8282B" stroke="#B52422" stroke-width="0.7"/>
<rect x="431.95" y="532.90" width="11.9" height="12.6" rx="4.2" fill="#000000"/>
<rect x="449.85" y="532.90" width="11.9" height="12.6" rx="4.2" fill="#000000"/>
<rect x="468.25" y="532.90" width="11.9" height="12.6" rx="4.2" fill="#000000"/>
<rect x="485.65" y="532.90" width="11.9" height="12.6" rx="4.2" fill="#000000"/>
<rect x="522.15" y="532.90" width="11.9" height="12.6" rx="4.2" fill="#000000"/>
<rect x="538.95" y="532.90" width="11.9" height="12.6" rx="4.2" fill="#000000"/>
<rect x="557.05" y="532.90" width="11.9" height="12.6" rx="4.2" fill="#000000"/>
<rect x="576.15" y="532.90" width="11.9" height="12.6" rx="4.2" fill="#000000"/>
<rect x="594.00" y="533.25" width="11.20" height="11.90" rx="3.85" fill="#E8282B" stroke="#B52422" stroke-width="0.7"/>
<rect x="612.30" y="533.25" width="11.20" height="11.90" rx="3.85" fill="#E8282B" stroke="#B52422" stroke-width="0.7"/>
<rect x="629.90" y="533.25" width="11.20" height="11.90" rx="3.85" fill="#E8282B" stroke="#B52422" stroke-width="0.7"/>
<rect x="129.10" y="550.95" width="11.20" height="11.90" rx="3.85" fill="#E8282B" stroke="#B52422" stroke-width="0.7"/>
<rect x="147.20" y="550.95" width="11.20" height="11.90" rx="3.85" fill="#E8282B" stroke="#B52422" stroke-width="0.7"/>
<rect x="163.50" y="550.95" width="11.20" height="11.90" rx="3.85" fill="#E8282B" stroke="#B52422" stroke-width="0.7"/>
<rect x="181.40" y="550.95" width="11.20" height="11.90" rx="3.85" fill="#E8282B" stroke="#B52422" stroke-width="0.7"/>
<rect x="199.00" y="550.95" width="11.20" height="11.90" rx="3.85" fill="#E8282B" stroke="#B52422" stroke-width="0.7"/>
<rect x="217.60" y="550.95" width="11.20" height="11.90" rx="3.85" fill="#E8282B" stroke="#B52422" stroke-width="0.7"/>
<rect x="234.35" y="550.60" width="11.9" height="12.6" rx="4.2" fill="#000000"/>
<rect x="253.80" y="550.95" width="11.20" height="11.90" rx="3.85" fill="#E8282B" stroke="#B52422" stroke-width="0.7"/>
<rect x="270.20" y="550.95" width="11.20" height="11.90" rx="3.85" fill="#E8282B" stroke="#B52422" stroke-width="0.7"/>
<rect x="288.50" y="550.95" width="11.20" height="11.90" rx="3.85" fill="#E8282B" stroke="#B52422" stroke-width="0.7"/>
<rect x="306.40" y="550.95" width="11.20" height="11.90" rx="3.85" fill="#E8282B" stroke="#B52422" stroke-width="0.7"/>
<rect x="324.40" y="550.95" width="11.20" height="11.90" rx="3.85" fill="#E8282B" stroke="#B52422" stroke-width="0.7"/>
<rect x="342.80" y="550.95" width="11.20" height="11.90" rx="3.85" fill="#E8282B" stroke="#B52422" stroke-width="0.7"/>
<rect x="359.50" y="550.95" width="11.20" height="11.90" rx="3.85" fill="#E8282B" stroke="#B52422" stroke-width="0.7"/>
<rect x="377.50" y="550.95" width="11.20" height="11.90" rx="3.85" fill="#E8282B" stroke="#B52422" stroke-width="0.7"/>
<rect x="395.10" y="550.95" width="11.20" height="11.90" rx="3.85" fill="#E8282B" stroke="#B52422" stroke-width="0.7"/>
<rect x="413.60" y="550.95" width="11.20" height="11.90" rx="3.85" fill="#E8282B" stroke="#B52422" stroke-width="0.7"/>
<rect x="431.95" y="550.60" width="11.9" height="12.6" rx="4.2" fill="#000000"/>
<rect x="449.85" y="550.60" width="11.9" height="12.6" rx="4.2" fill="#000000"/>
<rect x="468.25" y="550.60" width="11.9" height="12.6" rx="4.2" fill="#000000"/>
<rect x="485.65" y="550.60" width="11.9" height="12.6" rx="4.2" fill="#000000"/>
<rect x="504.75" y="550.60" width="11.9" height="12.6" rx="4.2" fill="#000000"/>
<rect x="538.95" y="550.60" width="11.9" height="12.6" rx="4.2" fill="#000000"/>
<rect x="557.05" y="550.60" width="11.9" height="12.6" rx="4.2" fill="#000000"/>
<rect x="576.15" y="550.60" width="11.9" height="12.6" rx="4.2" fill="#000000"/>
<rect x="594.00" y="550.95" width="11.20" height="11.90" rx="3.85" fill="#E8282B" stroke="#B52422" stroke-width="0.7"/>
<rect x="612.30" y="550.95" width="11.20" height="11.90" rx="3.85" fill="#E8282B" stroke="#B52422" stroke-width="0.7"/>
<rect x="629.90" y="550.95" width="11.20" height="11.90" rx="3.85" fill="#E8282B" stroke="#B52422" stroke-width="0.7"/>
<rect x="129.10" y="568.85" width="11.20" height="11.90" rx="3.85" fill="#E8282B" stroke="#B52422" stroke-width="0.7"/>
<rect x="147.20" y="568.85" width="11.20" height="11.90" rx="3.85" fill="#E8282B" stroke="#B52422" stroke-width="0.7"/>
<rect x="163.50" y="568.85" width="11.20" height="11.90" rx="3.85" fill="#E8282B" stroke="#B52422" stroke-width="0.7"/>
<rect x="181.40" y="568.85" width="11.20" height="11.90" rx="3.85" fill="#E8282B" stroke="#B52422" stroke-width="0.7"/>
<rect x="199.00" y="568.85" width="11.20" height="11.90" rx="3.85" fill="#E8282B" stroke="#B52422" stroke-width="0.7"/>
<rect x="217.60" y="568.85" width="11.20" height="11.90" rx="3.85" fill="#E8282B" stroke="#B52422" stroke-width="0.7"/>
<rect x="234.35" y="568.50" width="11.9" height="12.6" rx="4.2" fill="#000000"/>
<rect x="253.80" y="568.85" width="11.20" height="11.90" rx="3.85" fill="#E8282B" stroke="#B52422" stroke-width="0.7"/>
<rect x="270.20" y="568.85" width="11.20" height="11.90" rx="3.85" fill="#E8282B" stroke="#B52422" stroke-width="0.7"/>
<rect x="288.50" y="568.85" width="11.20" height="11.90" rx="3.85" fill="#E8282B" stroke="#B52422" stroke-width="0.7"/>
<rect x="306.40" y="568.85" width="11.20" height="11.90" rx="3.85" fill="#E8282B" stroke="#B52422" stroke-width="0.7"/>
<rect x="324.40" y="568.85" width="11.20" height="11.90" rx="3.85" fill="#E8282B" stroke="#B52422" stroke-width="0.7"/>
<rect x="342.80" y="568.85" width="11.20" height="11.90" rx="3.85" fill="#E8282B" stroke="#B52422" stroke-width="0.7"/>
<rect x="359.50" y="568.85" width="11.20" height="11.90" rx="3.85" fill="#E8282B" stroke="#B52422" stroke-width="0.7"/>
<rect x="377.50" y="568.85" width="11.20" height="11.90" rx="3.85" fill="#E8282B" stroke="#B52422" stroke-width="0.7"/>
<rect x="395.10" y="568.85" width="11.20" height="11.90" rx="3.85" fill="#E8282B" stroke="#B52422" stroke-width="0.7"/>
<rect x="413.60" y="568.85" width="11.20" height="11.90" rx="3.85" fill="#E8282B" stroke="#B52422" stroke-width="0.7"/>
<rect x="431.95" y="568.50" width="11.9" height="12.6" rx="4.2" fill="#000000"/>
<rect x="449.85" y="568.50" width="11.9" height="12.6" rx="4.2" fill="#000000"/>
<rect x="468.25" y="568.50" width="11.9" height="12.6" rx="4.2" fill="#000000"/>
<rect x="485.65" y="568.50" width="11.9" height="12.6" rx="4.2" fill="#000000"/>
<rect x="504.75" y="568.50" width="11.9" height="12.6" rx="4.2" fill="#000000"/>
<rect x="522.15" y="568.50" width="11.9" height="12.6" rx="4.2" fill="#000000"/>
<rect x="557.05" y="568.50" width="11.9" height="12.6" rx="4.2" fill="#000000"/>
<rect x="576.15" y="568.50" width="11.9" height="12.6" rx="4.2" fill="#000000"/>
<rect x="594.00" y="568.85" width="11.20" height="11.90" rx="3.85" fill="#E8282B" stroke="#B52422" stroke-width="0.7"/>
<rect x="612.30" y="568.85" width="11.20" height="11.90" rx="3.85" fill="#E8282B" stroke="#B52422" stroke-width="0.7"/>
<rect x="629.90" y="568.85" width="11.20" height="11.90" rx="3.85" fill="#E8282B" stroke="#B52422" stroke-width="0.7"/>
<rect x="129.10" y="586.65" width="11.20" height="11.90" rx="3.85" fill="#E8282B" stroke="#B52422" stroke-width="0.7"/>
<rect x="147.20" y="586.65" width="11.20" height="11.90" rx="3.85" fill="#E8282B" stroke="#B52422" stroke-width="0.7"/>
<rect x="163.50" y="586.65" width="11.20" height="11.90" rx="3.85" fill="#E8282B" stroke="#B52422" stroke-width="0.7"/>
<rect x="181.40" y="586.65" width="11.20" height="11.90" rx="3.85" fill="#E8282B" stroke="#B52422" stroke-width="0.7"/>
<rect x="199.00" y="586.65" width="11.20" height="11.90" rx="3.85" fill="#E8282B" stroke="#B52422" stroke-width="0.7"/>
<rect x="217.60" y="586.65" width="11.20" height="11.90" rx="3.85" fill="#E8282B" stroke="#B52422" stroke-width="0.7"/>
<rect x="234.35" y="586.30" width="11.9" height="12.6" rx="4.2" fill="#000000"/>
<rect x="253.80" y="586.65" width="11.20" height="11.90" rx="3.85" fill="#E8282B" stroke="#B52422" stroke-width="0.7"/>
<rect x="270.20" y="586.65" width="11.20" height="11.90" rx="3.85" fill="#E8282B" stroke="#B52422" stroke-width="0.7"/>
<rect x="288.50" y="586.65" width="11.20" height="11.90" rx="3.85" fill="#E8282B" stroke="#B52422" stroke-width="0.7"/>
<rect x="306.40" y="586.65" width="11.20" height="11.90" rx="3.85" fill="#E8282B" stroke="#B52422" stroke-width="0.7"/>
<rect x="324.40" y="586.65" width="11.20" height="11.90" rx="3.85" fill="#E8282B" stroke="#B52422" stroke-width="0.7"/>
<rect x="342.80" y="586.65" width="11.20" height="11.90" rx="3.85" fill="#E8282B" stroke="#B52422" stroke-width="0.7"/>
<rect x="359.50" y="586.65" width="11.20" height="11.90" rx="3.85" fill="#E8282B" stroke="#B52422" stroke-width="0.7"/>
<rect x="377.50" y="586.65" width="11.20" height="11.90" rx="3.85" fill="#E8282B" stroke="#B52422" stroke-width="0.7"/>
<rect x="395.10" y="586.65" width="11.20" height="11.90" rx="3.85" fill="#E8282B" stroke="#B52422" stroke-width="0.7"/>
<rect x="413.60" y="586.65" width="11.20" height="11.90" rx="3.85" fill="#E8282B" stroke="#B52422" stroke-width="0.7"/>
<rect x="431.95" y="586.30" width="11.9" height="12.6" rx="4.2" fill="#000000"/>
<rect x="449.85" y="586.30" width="11.9" height="12.6" rx="4.2" fill="#000000"/>
<rect x="468.25" y="586.30" width="11.9" height="12.6" rx="4.2" fill="#000000"/>
<rect x="485.65" y="586.30" width="11.9" height="12.6" rx="4.2" fill="#000000"/>
<rect x="504.75" y="586.30" width="11.9" height="12.6" rx="4.2" fill="#000000"/>
<rect x="522.15" y="586.30" width="11.9" height="12.6" rx="4.2" fill="#000000"/>
<rect x="538.95" y="586.30" width="11.9" height="12.6" rx="4.2" fill="#000000"/>
<rect x="576.15" y="586.30" width="11.9" height="12.6" rx="4.2" fill="#000000"/>
<rect x="594.00" y="586.65" width="11.20" height="11.90" rx="3.85" fill="#E8282B" stroke="#B52422" stroke-width="0.7"/>
<rect x="612.30" y="586.65" width="11.20" height="11.90" rx="3.85" fill="#E8282B" stroke="#B52422" stroke-width="0.7"/>
<rect x="629.90" y="586.65" width="11.20" height="11.90" rx="3.85" fill="#E8282B" stroke="#B52422" stroke-width="0.7"/>
<rect x="129.10" y="605.75" width="11.20" height="11.90" rx="3.85" fill="#E8282B" stroke="#B52422" stroke-width="0.7"/>
<rect x="147.20" y="605.75" width="11.20" height="11.90" rx="3.85" fill="#E8282B" stroke="#B52422" stroke-width="0.7"/>
<rect x="163.50" y="605.75" width="11.20" height="11.90" rx="3.85" fill="#E8282B" stroke="#B52422" stroke-width="0.7"/>
<rect x="181.40" y="605.75" width="11.20" height="11.90" rx="3.85" fill="#E8282B" stroke="#B52422" stroke-width="0.7"/>
<rect x="199.00" y="605.75" width="11.20" height="11.90" rx="3.85" fill="#E8282B" stroke="#B52422" stroke-width="0.7"/>
<rect x="217.60" y="605.75" width="11.20" height="11.90" rx="3.85" fill="#E8282B" stroke="#B52422" stroke-width="0.7"/>
<rect x="234.35" y="605.40" width="11.9" height="12.6" rx="4.2" fill="#000000"/>
<rect x="253.80" y="605.75" width="11.20" height="11.90" rx="3.85" fill="#E8282B" stroke="#B52422" stroke-width="0.7"/>
<rect x="270.20" y="605.75" width="11.20" height="11.90" rx="3.85" fill="#E8282B" stroke="#B52422" stroke-width="0.7"/>
<rect x="288.50" y="605.75" width="11.20" height="11.90" rx="3.85" fill="#E8282B" stroke="#B52422" stroke-width="0.7"/>
<rect x="306.40" y="605.75" width="11.20" height="11.90" rx="3.85" fill="#E8282B" stroke="#B52422" stroke-width="0.7"/>
<rect x="324.40" y="605.75" width="11.20" height="11.90" rx="3.85" fill="#E8282B" stroke="#B52422" stroke-width="0.7"/>
<rect x="342.80" y="605.75" width="11.20" height="11.90" rx="3.85" fill="#E8282B" stroke="#B52422" stroke-width="0.7"/>
<rect x="359.15" y="605.40" width="11.9" height="12.6" rx="4.2" fill="#000000"/>
<rect x="377.15" y="605.40" width="11.9" height="12.6" rx="4.2" fill="#000000"/>
<rect x="395.10" y="605.75" width="11.20" height="11.90" rx="3.85" fill="#E8282B" stroke="#B52422" stroke-width="0.7"/>
<rect x="413.60" y="605.75" width="11.20" height="11.90" rx="3.85" fill="#E8282B" stroke="#B52422" stroke-width="0.7"/>
<rect x="431.95" y="605.40" width="11.9" height="12.6" rx="4.2" fill="#000000"/>
<rect x="449.85" y="605.40" width="11.9" height="12.6" rx="4.2" fill="#000000"/>
<rect x="468.25" y="605.40" width="11.9" height="12.6" rx="4.2" fill="#000000"/>
<rect x="485.65" y="605.40" width="11.9" height="12.6" rx="4.2" fill="#000000"/>
<rect x="504.75" y="605.40" width="11.9" height="12.6" rx="4.2" fill="#000000"/>
<rect x="522.15" y="605.40" width="11.9" height="12.6" rx="4.2" fill="#000000"/>
<rect x="538.95" y="605.40" width="11.9" height="12.6" rx="4.2" fill="#000000"/>
<rect x="557.05" y="605.40" width="11.9" height="12.6" rx="4.2" fill="#000000"/>
<rect x="594.00" y="605.75" width="11.20" height="11.90" rx="3.85" fill="#E8282B" stroke="#B52422" stroke-width="0.7"/>
<rect x="612.30" y="605.75" width="11.20" height="11.90" rx="3.85" fill="#E8282B" stroke="#B52422" stroke-width="0.7"/>
<rect x="629.90" y="605.75" width="11.20" height="11.90" rx="3.85" fill="#E8282B" stroke="#B52422" stroke-width="0.7"/>
<rect x="129.10" y="623.55" width="11.20" height="11.90" rx="3.85" fill="#E8282B" stroke="#B52422" stroke-width="0.7"/>
<rect x="147.20" y="623.55" width="11.20" height="11.90" rx="3.85" fill="#E8282B" stroke="#B52422" stroke-width="0.7"/>
<rect x="163.50" y="623.55" width="11.20" height="11.90" rx="3.85" fill="#E8282B" stroke="#B52422" stroke-width="0.7"/>
<rect x="181.40" y="623.55" width="11.20" height="11.90" rx="3.85" fill="#E8282B" stroke="#B52422" stroke-width="0.7"/>
<rect x="199.00" y="623.55" width="11.20" height="11.90" rx="3.85" fill="#E8282B" stroke="#B52422" stroke-width="0.7"/>
<rect x="217.60" y="623.55" width="11.20" height="11.90" rx="3.85" fill="#E8282B" stroke="#B52422" stroke-width="0.7"/>
<rect x="234.70" y="623.55" width="11.20" height="11.90" rx="3.85" fill="#E8282B" stroke="#B52422" stroke-width="0.7"/>
<rect x="253.80" y="623.55" width="11.20" height="11.90" rx="3.85" fill="#E8282B" stroke="#B52422" stroke-width="0.7"/>
<rect x="270.20" y="623.55" width="11.20" height="11.90" rx="3.85" fill="#E8282B" stroke="#B52422" stroke-width="0.7"/>
<rect x="288.50" y="623.55" width="11.20" height="11.90" rx="3.85" fill="#E8282B" stroke="#B52422" stroke-width="0.7"/>
<rect x="306.40" y="623.55" width="11.20" height="11.90" rx="3.85" fill="#E8282B" stroke="#B52422" stroke-width="0.7"/>
<rect x="324.40" y="623.55" width="11.20" height="11.90" rx="3.85" fill="#E8282B" stroke="#B52422" stroke-width="0.7"/>
<rect x="342.80" y="623.55" width="11.20" height="11.90" rx="3.85" fill="#E8282B" stroke="#B52422" stroke-width="0.7"/>
<rect x="359.50" y="623.55" width="11.20" height="11.90" rx="3.85" fill="#E8282B" stroke="#B52422" stroke-width="0.7"/>
<rect x="377.50" y="623.55" width="11.20" height="11.90" rx="3.85" fill="#E8282B" stroke="#B52422" stroke-width="0.7"/>
<rect x="395.10" y="623.55" width="11.20" height="11.90" rx="3.85" fill="#E8282B" stroke="#B52422" stroke-width="0.7"/>
<rect x="413.25" y="623.20" width="11.9" height="12.6" rx="4.2" fill="#231F20"/>
<rect x="432.30" y="623.55" width="11.20" height="11.90" rx="3.85" fill="#E8282B" stroke="#B52422" stroke-width="0.7"/>
<rect x="450.20" y="623.55" width="11.20" height="11.90" rx="3.85" fill="#E8282B" stroke="#B52422" stroke-width="0.7"/>
<rect x="468.60" y="623.55" width="11.20" height="11.90" rx="3.85" fill="#E8282B" stroke="#B52422" stroke-width="0.7"/>
<rect x="486.00" y="623.55" width="11.20" height="11.90" rx="3.85" fill="#E8282B" stroke="#B52422" stroke-width="0.7"/>
<rect x="505.10" y="623.55" width="11.20" height="11.90" rx="3.85" fill="#E8282B" stroke="#B52422" stroke-width="0.7"/>
<rect x="522.50" y="623.55" width="11.20" height="11.90" rx="3.85" fill="#E8282B" stroke="#B52422" stroke-width="0.7"/>
<rect x="539.30" y="623.55" width="11.20" height="11.90" rx="3.85" fill="#E8282B" stroke="#B52422" stroke-width="0.7"/>
<rect x="557.40" y="623.55" width="11.20" height="11.90" rx="3.85" fill="#E8282B" stroke="#B52422" stroke-width="0.7"/>
<rect x="576.50" y="623.55" width="11.20" height="11.90" rx="3.85" fill="#E8282B" stroke="#B52422" stroke-width="0.7"/>
<rect x="611.95" y="623.20" width="11.9" height="12.6" rx="4.2" fill="#231F20"/>
<rect x="629.55" y="623.20" width="11.9" height="12.6" rx="4.2" fill="#231F20"/>
<rect x="129.10" y="641.85" width="11.20" height="11.90" rx="3.85" fill="#E8282B" stroke="#B52422" stroke-width="0.7"/>
<rect x="147.20" y="641.85" width="11.20" height="11.90" rx="3.85" fill="#E8282B" stroke="#B52422" stroke-width="0.7"/>
<rect x="163.50" y="641.85" width="11.20" height="11.90" rx="3.85" fill="#E8282B" stroke="#B52422" stroke-width="0.7"/>
<rect x="181.40" y="641.85" width="11.20" height="11.90" rx="3.85" fill="#E8282B" stroke="#B52422" stroke-width="0.7"/>
<rect x="199.00" y="641.85" width="11.20" height="11.90" rx="3.85" fill="#E8282B" stroke="#B52422" stroke-width="0.7"/>
<rect x="217.60" y="641.85" width="11.20" height="11.90" rx="3.85" fill="#E8282B" stroke="#B52422" stroke-width="0.7"/>
<rect x="234.70" y="641.85" width="11.20" height="11.90" rx="3.85" fill="#E8282B" stroke="#B52422" stroke-width="0.7"/>
<rect x="253.80" y="641.85" width="11.20" height="11.90" rx="3.85" fill="#E8282B" stroke="#B52422" stroke-width="0.7"/>
<rect x="270.20" y="641.85" width="11.20" height="11.90" rx="3.85" fill="#E8282B" stroke="#B52422" stroke-width="0.7"/>
<rect x="288.50" y="641.85" width="11.20" height="11.90" rx="3.85" fill="#E8282B" stroke="#B52422" stroke-width="0.7"/>
<rect x="306.40" y="641.85" width="11.20" height="11.90" rx="3.85" fill="#E8282B" stroke="#B52422" stroke-width="0.7"/>
<rect x="324.40" y="641.85" width="11.20" height="11.90" rx="3.85" fill="#E8282B" stroke="#B52422" stroke-width="0.7"/>
<rect x="342.80" y="641.85" width="11.20" height="11.90" rx="3.85" fill="#E8282B" stroke="#B52422" stroke-width="0.7"/>
<rect x="359.50" y="641.85" width="11.20" height="11.90" rx="3.85" fill="#E8282B" stroke="#B52422" stroke-width="0.7"/>
<rect x="377.50" y="641.85" width="11.20" height="11.90" rx="3.85" fill="#E8282B" stroke="#B52422" stroke-width="0.7"/>
<rect x="395.10" y="641.85" width="11.20" height="11.90" rx="3.85" fill="#E8282B" stroke="#B52422" stroke-width="0.7"/>
<rect x="413.60" y="641.85" width="11.20" height="11.90" rx="3.85" fill="#E8282B" stroke="#B52422" stroke-width="0.7"/>
<rect x="431.95" y="641.50" width="11.9" height="12.6" rx="4.2" fill="#231F20"/>
<rect x="450.20" y="641.85" width="11.20" height="11.90" rx="3.85" fill="#E8282B" stroke="#B52422" stroke-width="0.7"/>
<rect x="468.60" y="641.85" width="11.20" height="11.90" rx="3.85" fill="#E8282B" stroke="#B52422" stroke-width="0.7"/>
<rect x="486.00" y="641.85" width="11.20" height="11.90" rx="3.85" fill="#E8282B" stroke="#B52422" stroke-width="0.7"/>
<rect x="505.10" y="641.85" width="11.20" height="11.90" rx="3.85" fill="#E8282B" stroke="#B52422" stroke-width="0.7"/>
<rect x="522.50" y="641.85" width="11.20" height="11.90" rx="3.85" fill="#E8282B" stroke="#B52422" stroke-width="0.7"/>
<rect x="539.30" y="641.85" width="11.20" height="11.90" rx="3.85" fill="#E8282B" stroke="#B52422" stroke-width="0.7"/>
<rect x="557.40" y="641.85" width="11.20" height="11.90" rx="3.85" fill="#E8282B" stroke="#B52422" stroke-width="0.7"/>
<rect x="576.50" y="641.85" width="11.20" height="11.90" rx="3.85" fill="#E8282B" stroke="#B52422" stroke-width="0.7"/>
<rect x="593.65" y="641.50" width="11.9" height="12.6" rx="4.2" fill="#231F20"/>
<rect x="629.55" y="641.50" width="11.9" height="12.6" rx="4.2" fill="#231F20"/>
<rect x="129.10" y="658.05" width="11.20" height="11.90" rx="3.85" fill="#E8282B" stroke="#B52422" stroke-width="0.7"/>
<rect x="147.20" y="658.05" width="11.20" height="11.90" rx="3.85" fill="#E8282B" stroke="#B52422" stroke-width="0.7"/>
<rect x="163.50" y="658.05" width="11.20" height="11.90" rx="3.85" fill="#E8282B" stroke="#B52422" stroke-width="0.7"/>
<rect x="181.40" y="658.05" width="11.20" height="11.90" rx="3.85" fill="#E8282B" stroke="#B52422" stroke-width="0.7"/>
<rect x="199.00" y="658.05" width="11.20" height="11.90" rx="3.85" fill="#E8282B" stroke="#B52422" stroke-width="0.7"/>
<rect x="217.60" y="658.05" width="11.20" height="11.90" rx="3.85" fill="#E8282B" stroke="#B52422" stroke-width="0.7"/>
<rect x="234.70" y="658.05" width="11.20" height="11.90" rx="3.85" fill="#E8282B" stroke="#B52422" stroke-width="0.7"/>
<rect x="253.80" y="658.05" width="11.20" height="11.90" rx="3.85" fill="#E8282B" stroke="#B52422" stroke-width="0.7"/>
<rect x="270.20" y="658.05" width="11.20" height="11.90" rx="3.85" fill="#E8282B" stroke="#B52422" stroke-width="0.7"/>
<rect x="288.50" y="658.05" width="11.20" height="11.90" rx="3.85" fill="#E8282B" stroke="#B52422" stroke-width="0.7"/>
<rect x="306.40" y="658.05" width="11.20" height="11.90" rx="3.85" fill="#E8282B" stroke="#B52422" stroke-width="0.7"/>
<rect x="324.40" y="658.05" width="11.20" height="11.90" rx="3.85" fill="#E8282B" stroke="#B52422" stroke-width="0.7"/>
<rect x="342.80" y="658.05" width="11.20" height="11.90" rx="3.85" fill="#E8282B" stroke="#B52422" stroke-width="0.7"/>
<rect x="359.50" y="658.05" width="11.20" height="11.90" rx="3.85" fill="#E8282B" stroke="#B52422" stroke-width="0.7"/>
<rect x="377.50" y="658.05" width="11.20" height="11.90" rx="3.85" fill="#E8282B" stroke="#B52422" stroke-width="0.7"/>
<rect x="395.10" y="658.05" width="11.20" height="11.90" rx="3.85" fill="#E8282B" stroke="#B52422" stroke-width="0.7"/>
<rect x="413.60" y="658.05" width="11.20" height="11.90" rx="3.85" fill="#E8282B" stroke="#B52422" stroke-width="0.7"/>
<rect x="432.30" y="658.05" width="11.20" height="11.90" rx="3.85" fill="#E8282B" stroke="#B52422" stroke-width="0.7"/>
<rect x="449.85" y="657.70" width="11.9" height="12.6" rx="4.2" fill="#231F20"/>
<rect x="468.60" y="658.05" width="11.20" height="11.90" rx="3.85" fill="#E8282B" stroke="#B52422" stroke-width="0.7"/>
<rect x="486.00" y="658.05" width="11.20" height="11.90" rx="3.85" fill="#E8282B" stroke="#B52422" stroke-width="0.7"/>
<rect x="505.10" y="658.05" width="11.20" height="11.90" rx="3.85" fill="#E8282B" stroke="#B52422" stroke-width="0.7"/>
<rect x="522.50" y="658.05" width="11.20" height="11.90" rx="3.85" fill="#E8282B" stroke="#B52422" stroke-width="0.7"/>
<rect x="539.30" y="658.05" width="11.20" height="11.90" rx="3.85" fill="#E8282B" stroke="#B52422" stroke-width="0.7"/>
<rect x="557.40" y="658.05" width="11.20" height="11.90" rx="3.85" fill="#E8282B" stroke="#B52422" stroke-width="0.7"/>
<rect x="576.50" y="658.05" width="11.20" height="11.90" rx="3.85" fill="#E8282B" stroke="#B52422" stroke-width="0.7"/>
<rect x="593.65" y="657.70" width="11.9" height="12.6" rx="4.2" fill="#231F20"/>
<rect x="611.95" y="657.70" width="11.9" height="12.6" rx="4.2" fill="#231F20"/>
<rect x="10.8" y="684.9" width="83.6" height="38.9" fill="#fff" stroke="#666" stroke-width="1.3"/>
<rect x="17.8" y="693.3" width="11.2" height="10.2" rx="3.2" fill="#231F20"/>
<rect x="17.8" y="708" width="11.2" height="10.2" rx="3.2" fill="#E8282B"/>
<g style="opacity:0.999">
<text transform="translate(13.66,163.60) scale(0.8393,1)" class="rl">DT_<tspan class="si">I</tspan><tspan class="si">1</tspan></text>
<text transform="translate(13.67,181.50) scale(0.8310,1)" class="rl">DT_<tspan class="si">I</tspan>2</text>
<text transform="translate(13.66,199.60) scale(0.8379,1)" class="rl">DT_<tspan class="si">I</tspan>4</text>
<text transform="translate(13.70,218.20) scale(0.8030,1)" class="rl">DT_R4</text>
<text transform="translate(13.70,236.50) scale(0.8030,1)" class="rl">DT_R8</text>
<text transform="translate(13.72,254.60) scale(0.7794,1)" class="rl">DT_CY</text>
<text transform="translate(13.69,271.90) scale(0.8109,1)" class="rl">DT_DATE</text>
<text transform="translate(13.71,290.40) scale(0.7857,1)" class="rl">DT_BOOL</text>
<text transform="translate(13.71,308.10) scale(0.7871,1)" class="rl">DT_NUMER<tspan class="si">I</tspan>C</text>
<text transform="translate(13.71,326.20) scale(0.7925,1)" class="rl">DT_DEC<tspan class="si">I</tspan>MAL</text>
<text transform="translate(13.66,343.40) scale(0.8400,1)" class="rl">DT_U<tspan class="si">I</tspan><tspan class="si">1</tspan></text>
<text transform="translate(13.67,361.90) scale(0.8333,1)" class="rl">DT_U<tspan class="si">I</tspan>2</text>
<text transform="translate(13.68,379.80) scale(0.8216,1)" class="rl">DT_U<tspan class="si">I</tspan>4</text>
<text transform="translate(13.67,398.70) scale(0.8310,1)" class="rl">DT_<tspan class="si">I</tspan>8</text>
<text transform="translate(13.66,416.00) scale(0.8444,1)" class="rl">DT_U<tspan class="si">I</tspan>8</text>
<text transform="translate(13.70,434.10) scale(0.7979,1)" class="rl">DT_GU<tspan class="si">I</tspan>D</text>
<text transform="translate(13.72,451.90) scale(0.7833,1)" class="rl">DT_BYTES</text>
<text transform="translate(13.70,470.00) scale(0.8000,1)" class="rl">DT_STR</text>
<text transform="translate(13.69,488.10) scale(0.8060,1)" class="rl">DT_WSTR</text>
<text transform="translate(13.69,505.80) scale(0.8098,1)" class="rl">DT_DBDATE</text>
<text transform="translate(13.70,523.40) scale(0.7967,1)" class="rl">DT_DBT<tspan class="si">I</tspan>ME</text>
<text transform="translate(13.70,541.90) scale(0.8045,1)" class="rl">DT_DBT<tspan class="si">I</tspan>ME2</text>
<text transform="translate(13.71,559.60) scale(0.7917,1)" class="rl">DT_DBT<tspan class="si">I</tspan>MESTAMP</text>
<text transform="translate(13.71,577.70) scale(0.7941,1)" class="rl">DT_DBT<tspan class="si">I</tspan>MESTAMP2</text>
<text transform="translate(13.72,595.70) scale(0.7770,1)" class="rl">DT_DBT<tspan class="si">I</tspan>MESTAMPOFFSET</text>
<text transform="translate(13.72,613.80) scale(0.7841,1)" class="rl">DT_F<tspan class="si">I</tspan>LET<tspan class="si">I</tspan>ME</text>
<text transform="translate(13.71,631.90) scale(0.7944,1)" class="rl">DT_<tspan class="si">I</tspan>MAGE</text>
<text transform="translate(13.71,650.00) scale(0.7913,1)" class="rl">DT_TEXT</text>
<text transform="translate(13.72,667.70) scale(0.7833,1)" class="rl">DT_NTEXT</text>
<text transform="translate(137.40,142.74) rotate(-90) scale(0.8940,1)" class="cl">DT_<tspan class="si">I</tspan><tspan class="si">1</tspan></text>
<text transform="translate(155.32,142.73) rotate(-90) scale(0.8852,1)" class="cl">DT_<tspan class="si">I</tspan>2</text>
<text transform="translate(173.24,142.73) rotate(-90) scale(0.8926,1)" class="cl">DT_<tspan class="si">I</tspan>4</text>
<text transform="translate(191.15,142.70) rotate(-90) scale(0.8554,1)" class="cl">DT_R4</text>
<text transform="translate(209.07,142.70) rotate(-90) scale(0.8554,1)" class="cl">DT_R8</text>
<text transform="translate(226.99,142.67) rotate(-90) scale(0.8302,1)" class="cl">DT_CY</text>
<text transform="translate(244.91,142.70) rotate(-90) scale(0.8638,1)" class="cl">DT_DATE</text>
<text transform="translate(262.83,142.68) rotate(-90) scale(0.8370,1)" class="cl">DT_BOOL</text>
<text transform="translate(280.74,142.68) rotate(-90) scale(0.8385,1)" class="cl">DT_NUMER<tspan class="si">I</tspan>C</text>
<text transform="translate(298.66,142.68) rotate(-90) scale(0.8442,1)" class="cl">DT_DEC<tspan class="si">I</tspan>MAL</text>
<text transform="translate(316.58,142.74) rotate(-90) scale(0.8948,1)" class="cl">DT_U<tspan class="si">I</tspan><tspan class="si">1</tspan></text>
<text transform="translate(334.50,142.73) rotate(-90) scale(0.8877,1)" class="cl">DT_U<tspan class="si">I</tspan>2</text>
<text transform="translate(352.42,142.72) rotate(-90) scale(0.8752,1)" class="cl">DT_U<tspan class="si">I</tspan>4</text>
<text transform="translate(370.33,142.73) rotate(-90) scale(0.8852,1)" class="cl">DT_<tspan class="si">I</tspan>8</text>
<text transform="translate(388.25,142.74) rotate(-90) scale(0.8995,1)" class="cl">DT_U<tspan class="si">I</tspan>8</text>
<text transform="translate(406.17,142.69) rotate(-90) scale(0.8499,1)" class="cl">DT_GU<tspan class="si">I</tspan>D</text>
<text transform="translate(424.09,142.67) rotate(-90) scale(0.8344,1)" class="cl">DT_BYTES</text>
<text transform="translate(442.01,142.69) rotate(-90) scale(0.8522,1)" class="cl">DT_STR</text>
<text transform="translate(459.92,142.70) rotate(-90) scale(0.8586,1)" class="cl">DT_WSTR</text>
<text transform="translate(477.84,142.70) rotate(-90) scale(0.8627,1)" class="cl">DT_DBDATE</text>
<text transform="translate(495.76,142.69) rotate(-90) scale(0.8486,1)" class="cl">DT_DBT<tspan class="si">I</tspan>ME</text>
<text transform="translate(513.68,142.70) rotate(-90) scale(0.8570,1)" class="cl">DT_DBT<tspan class="si">I</tspan>ME2</text>
<text transform="translate(531.60,142.68) rotate(-90) scale(0.8433,1)" class="cl">DT_DBT<tspan class="si">I</tspan>MESTAMP</text>
<text transform="translate(549.51,142.69) rotate(-90) scale(0.8459,1)" class="cl">DT_DBT<tspan class="si">I</tspan>MESTAMP2</text>
<text transform="translate(567.43,142.67) rotate(-90) scale(0.8277,1)" class="cl">DT_DBT<tspan class="si">I</tspan>MESTAMPOFFSET</text>
<text transform="translate(585.35,142.67) rotate(-90) scale(0.8352,1)" class="cl">DT_F<tspan class="si">I</tspan>LET<tspan class="si">I</tspan>ME</text>
<text transform="translate(603.27,142.69) rotate(-90) scale(0.8463,1)" class="cl">DT_<tspan class="si">I</tspan>MAGE</text>
<text transform="translate(621.19,142.68) rotate(-90) scale(0.8429,1)" class="cl">DT_TEXT</text>
<text transform="translate(639.10,142.67) rotate(-90) scale(0.8344,1)" class="cl">DT_NTEXT</text>
<text transform="translate(122.9,10) scale(1.15,1)" class="tt">To:</text>
<text transform="translate(8.8,146) scale(0.945,1)" class="tt">From:</text>
<text x="35.3" y="701.6" class="lg">Legal cast</text>
<text x="35.5" y="715.8" class="lg">Illegal cast</text>
</g>
</svg>
</body></html>
